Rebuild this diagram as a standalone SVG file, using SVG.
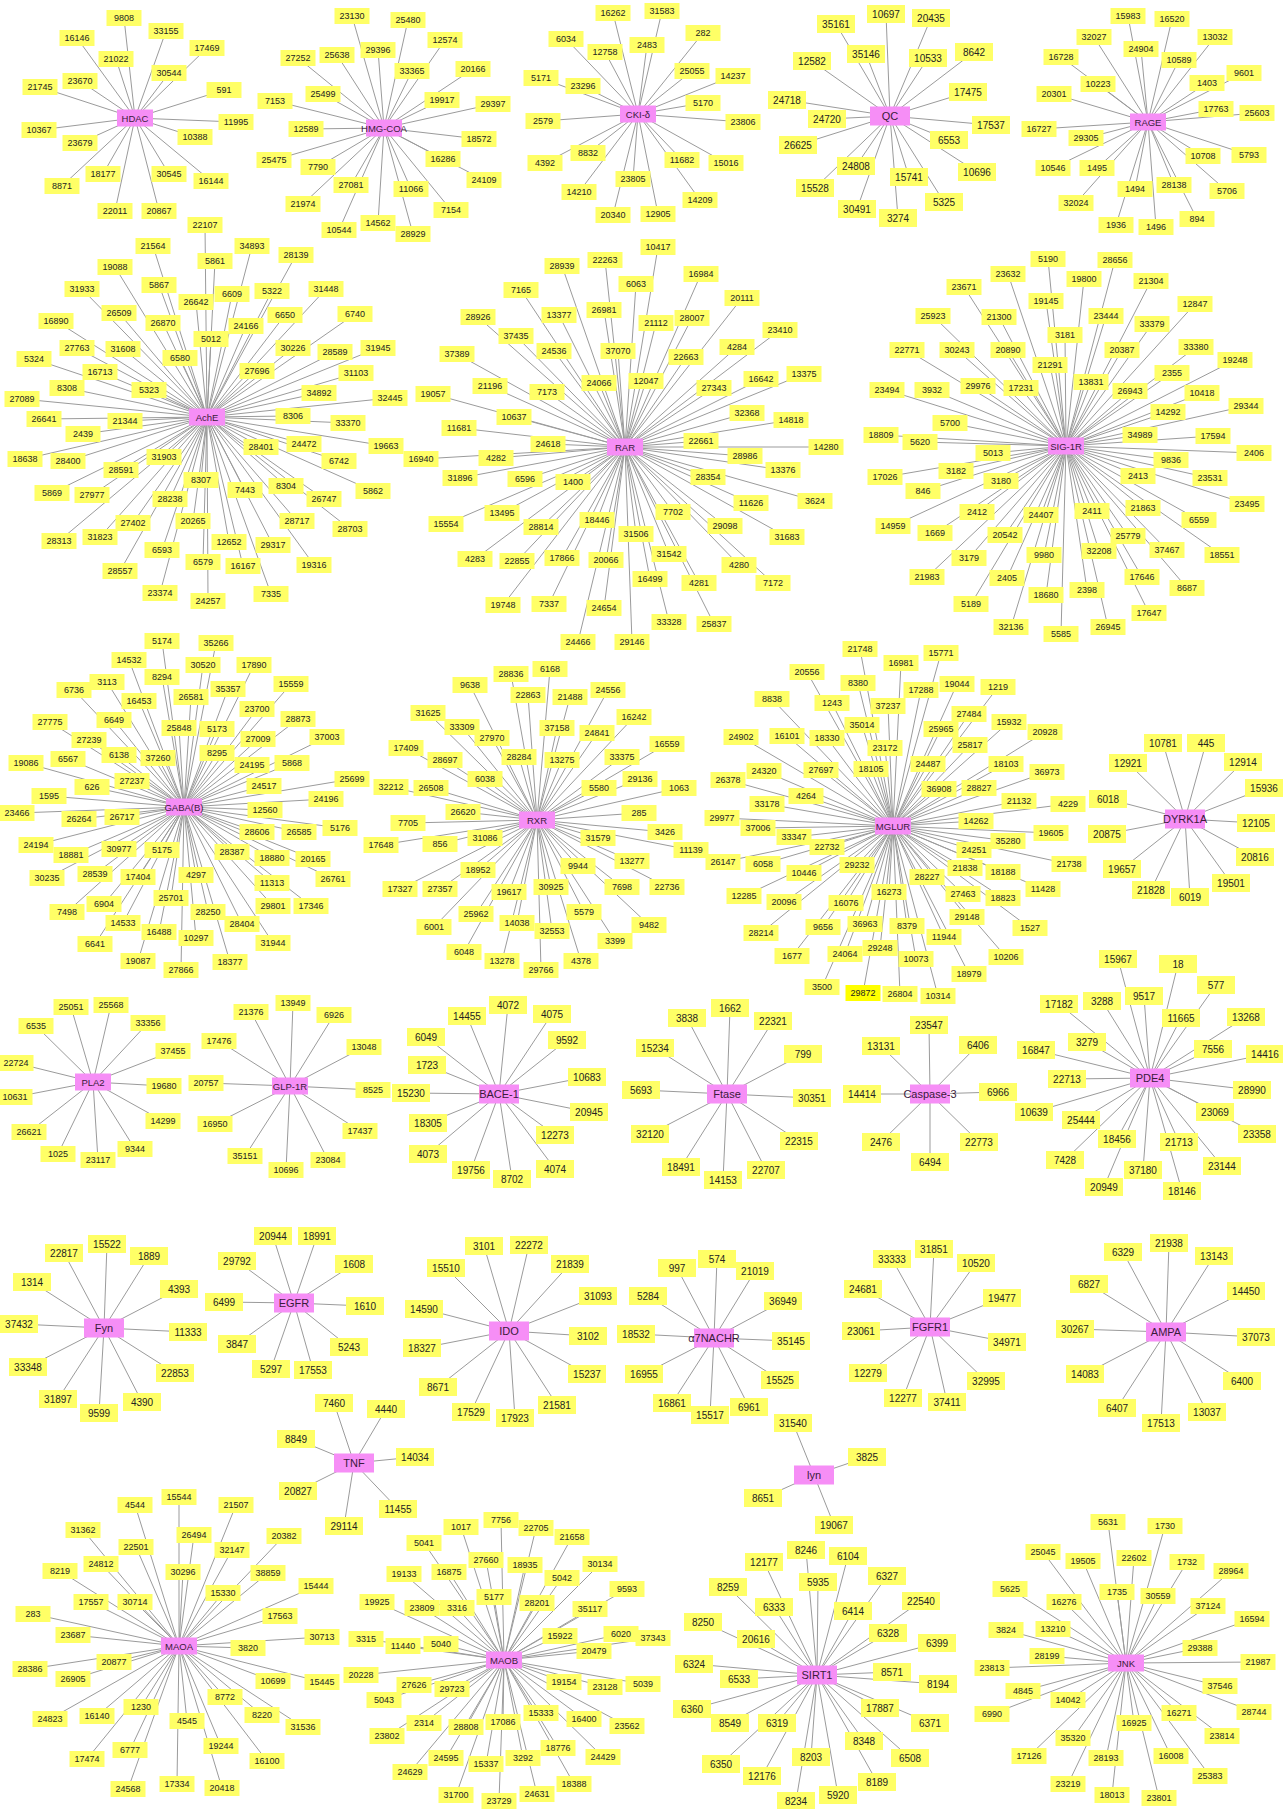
<svg xmlns="http://www.w3.org/2000/svg" width="1283" height="1809" viewBox="0 0 1283 1809">
<style>
text{font-family:"Liberation Sans",Arial,sans-serif;font-size:9px;fill:#222;text-anchor:middle;dominant-baseline:central}
rect{x:-17.5px;y:-8px;width:35px;height:16px;fill:#ffff66}
.L rect{x:-19px;y:-9px;width:38px;height:18px}
.L text{font-size:10px}
.h rect{fill:#f68ef6;x:-18px;y:-8.5px;width:36px;height:17px}
.L .h rect{x:-20px;y:-9.5px;width:40px;height:19px}
.h text{font-size:9.5px;fill:#3a1a3a}
.L .h text{font-size:11px}
#bg{x:0;y:0;width:1283px;height:1809px;fill:#fff}
#edges path{stroke:#9b9b9b;stroke-width:1;fill:none}
</style>
<rect id="bg"/>
<g id="edges">
<path id="e-HDAC" d="M135 118L124 18M135 118L77 38M135 118L166 31M135 118L116 59M135 118L207 48M135 118L169 73M135 118L40 87M135 118L80 81M135 118L224 90M135 118L236 122M135 118L39 130M135 118L195 137M135 118L80 143M135 118L103 174M135 118L169 174M135 118L211 181M135 118L62 186M135 118L115 211M135 118L159 211"/>
<path id="e-HMG" d="M384 128L352 16M384 128L408 20M384 128L298 58M384 128L337 55M384 128L378 50M384 128L412 71M384 128L323 94M384 128L275 101M384 128L306 129M384 128L274 160M384 128L318 167M384 128L351 185M384 128L303 204M384 128L411 189M384 128L339 230M384 128L378 223M384 128L413 234M384 128L445 40M384 128L473 69M384 128L442 100M384 128L493 104M384 128L479 139M384 128L443 159M384 128L484 180M384 128L451 210"/>
<path id="e-CKI" d="M638 114L613 13M638 114L662 11M638 114L566 39M638 114L605 52M638 114L647 45M638 114L703 33M638 114L692 71M638 114L733 76M638 114L541 78M638 114L583 86M638 114L703 103M638 114L543 121M638 114L743 122M638 114L588 153M638 114L545 163M638 114L682 160M638 114L726 163M638 114L633 179M638 114L579 192M638 114L700 200M638 114L613 215M638 114L658 214"/>
<path id="e-QC" d="M890 116L886 14M890 116L931 18M890 116L866 54M890 116L928 58M890 116L974 52M890 116L968 92M890 116L991 125M890 116L949 140M890 116L977 172M890 116L909 177M890 116L944 202M890 116L898 218M890 116L857 209M890 116L856 166M890 116L836 24M890 116L812 61M890 116L787 100M890 116L827 119M890 116L798 145M890 116L815 188"/>
<path id="e-RAGE" d="M1148 122L1128 16M1148 122L1172 19M1148 122L1094 37M1148 122L1141 49M1148 122L1215 37M1148 122L1061 57M1148 122L1179 60M1148 122L1244 73M1148 122L1098 84M1148 122L1207 83M1148 122L1054 94M1148 122L1216 109M1148 122L1257 113M1148 122L1039 129M1148 122L1086 138M1148 122L1203 156M1148 122L1249 155M1148 122L1053 168M1148 122L1097 168M1148 122L1135 189M1148 122L1174 185M1148 122L1227 191M1148 122L1076 203M1148 122L1116 225M1148 122L1156 227M1148 122L1197 219"/>
<path id="e-AchE" d="M207 417L205 225M207 417L153 246M207 417L252 246M207 417L215 261M207 417L296 255M207 417L115 267M207 417L159 285M207 417L82 289M207 417L232 294M207 417L272 291M207 417L326 289M207 417L196 302M207 417L119 313M207 417L285 315M207 417L355 314M207 417L56 321M207 417L163 323M207 417L246 326M207 417L211 339M207 417L77 348M207 417L123 349M207 417L293 348M207 417L335 352M207 417L378 348M207 417L34 359M207 417L180 358M207 417L257 371M207 417L100 372M207 417L356 373M207 417L67 388M207 417L149 390M207 417L319 393M207 417L22 399M207 417L390 398M207 417L44 419M207 417L125 421M207 417L293 416M207 417L348 423M207 417L83 434M207 417L261 447M207 417L304 444M207 417L386 446M207 417L25 459M207 417L68 461M207 417L164 457M207 417L339 461M207 417L121 470M207 417L201 480M207 417L52 493M207 417L92 495M207 417L245 490M207 417L286 486M207 417L324 499M207 417L373 491M207 417L170 499M207 417L133 523M207 417L193 521M207 417L297 521M207 417L350 529M207 417L59 541M207 417L100 537M207 417L229 542M207 417L273 545M207 417L162 550M207 417L203 562M207 417L243 566M207 417L314 565M207 417L120 571M207 417L160 593M207 417L208 601M207 417L271 594"/>
<path id="e-RAR" d="M625 447L658 247M625 447L605 260M625 447L562 266M625 447L701 274M625 447L636 284M625 447L521 290M625 447L742 298M625 447L604 310M625 447L559 315M625 447L478 317M625 447L656 323M625 447L692 318M625 447L516 336M625 447L780 330M625 447L554 351M625 447L618 351M625 447L457 354M625 447L737 347M625 447L686 357M625 447L714 388M625 447L761 379M625 447L804 374M625 447L599 383M625 447L646 381M625 447L490 386M625 447L547 392M625 447L433 394M625 447L747 413M625 447L791 420M625 447L514 417M625 447L459 428M625 447L548 444M625 447L701 441M625 447L826 447M625 447L745 456M625 447L496 458M625 447L421 459M625 447L460 478M625 447L525 479M625 447L573 482M625 447L783 470M625 447L708 477M625 447L815 501M625 447L751 503M625 447L502 513M625 447L673 512M625 447L446 524M625 447L541 527M625 447L597 520M625 447L636 534M625 447L725 526M625 447L787 537M625 447L475 559M625 447L517 561M625 447L562 558M625 447L606 560M625 447L669 554M625 447L739 565M625 447L773 583M625 447L650 579M625 447L699 583M625 447L503 605M625 447L549 604M625 447L604 608M625 447L669 622M625 447L714 624M625 447L578 642M625 447L632 642"/>
<path id="e-SIG" d="M1066 446L1048 259M1066 446L1115 260M1066 446L1008 274M1066 446L1084 279M1066 446L1151 281M1066 446L964 287M1066 446L1046 301M1066 446L1195 304M1066 446L933 316M1066 446L999 317M1066 446L1106 316M1066 446L1152 324M1066 446L1065 335M1066 446L907 350M1066 446L957 350M1066 446L1008 350M1066 446L1122 350M1066 446L1196 347M1066 446L1235 360M1066 446L1050 365M1066 446L1172 373M1066 446L887 390M1066 446L932 390M1066 446L978 386M1066 446L1021 388M1066 446L1091 382M1066 446L1130 391M1066 446L1202 393M1066 446L1246 406M1066 446L1168 412M1066 446L950 423M1066 446L881 435M1066 446L920 442M1066 446L1140 435M1066 446L1213 436M1066 446L993 453M1066 446L1254 453M1066 446L1171 460M1066 446L956 471M1066 446L885 477M1066 446L1138 476M1066 446L1210 478M1066 446L1001 481M1066 446L923 491M1066 446L1247 504M1066 446L977 512M1066 446L1041 515M1066 446L1092 511M1066 446L1143 508M1066 446L1199 520M1066 446L893 526M1066 446L935 533M1066 446L1005 535M1066 446L1128 536M1066 446L1167 550M1066 446L1222 555M1066 446L1044 555M1066 446L1099 551M1066 446L969 558M1066 446L927 577M1066 446L1007 578M1066 446L1142 577M1066 446L1187 588M1066 446L1046 595M1066 446L1087 590M1066 446L971 604M1066 446L1149 613M1066 446L1011 627M1066 446L1061 634M1066 446L1108 627"/>
<path id="e-GABA" d="M184 807L162 641M184 807L216 643M184 807L129 660M184 807L203 665M184 807L254 665M184 807L162 677M184 807L107 682M184 807L74 690M184 807L228 689M184 807L291 684M184 807L139 701M184 807L191 697M184 807L257 709M184 807L50 722M184 807L114 720M184 807L179 728M184 807L217 729M184 807L298 719M184 807L89 740M184 807L258 739M184 807L327 737M184 807L119 755M184 807L158 758M184 807L217 753M184 807L26 763M184 807L68 759M184 807L252 765M184 807L292 763M184 807L132 781M184 807L92 787M184 807L264 786M184 807L352 779M184 807L49 796M184 807L326 799M184 807L17 813M184 807L79 819M184 807L122 817M184 807L265 810M184 807L340 828M184 807L257 832M184 807L299 832M184 807L36 845M184 807L71 855M184 807L119 849M184 807L162 850M184 807L232 852M184 807L272 858M184 807L313 859M184 807L47 878M184 807L95 874M184 807L138 877M184 807L196 875M184 807L272 883M184 807L333 879M184 807L67 912M184 807L104 904M184 807L171 898M184 807L208 912M184 807L273 906M184 807L311 906M184 807L123 923M184 807L242 924M184 807L159 932M184 807L196 938M184 807L95 944M184 807L273 943M184 807L138 961M184 807L181 970M184 807L230 962"/>
<path id="e-RXR" d="M537 820L550 669M537 820L511 674M537 820L470 685M537 820L528 695M537 820L570 697M537 820L608 690M537 820L428 713M537 820L462 727M537 820L634 717M537 820L557 728M537 820L597 733M537 820L492 738M537 820L667 744M537 820L445 760M537 820L519 757M537 820L562 760M537 820L622 757M537 820L406 748M537 820L485 779M537 820L640 779M537 820L679 788M537 820L599 788M537 820L431 788M537 820L391 787M537 820L463 812M537 820L639 813M537 820L665 832M537 820L598 838M537 820L691 850M537 820L485 838M537 820L408 823M537 820L440 844M537 820L381 845M537 820L632 861M537 820L478 870M537 820L578 866M537 820L667 887M537 820L622 887M537 820L440 889M537 820L400 889M537 820L509 892M537 820L551 887M537 820L476 914M537 820L584 912M537 820L649 925M537 820L517 923M537 820L552 931M537 820L434 927M537 820L615 941M537 820L464 952M537 820L502 961M537 820L541 970M537 820L581 961"/>
<path id="e-MGLUR" d="M893 826L860 649M893 826L807 672M893 826L858 683M893 826L772 699M893 826L832 703M893 826L862 725M893 826L741 737M893 826L787 736M893 826L827 738M893 826L821 770M893 826L764 771M893 826L728 780M893 826L806 796M893 826L767 804M893 826L722 818M893 826L758 828M893 826L794 837M893 826L827 847M893 826L723 862M893 826L763 864M893 826L857 865M893 826L804 873M893 826L744 896M893 826L784 902M893 826L846 903M893 826L761 933M893 826L823 927M893 826L792 956M893 826L845 954M893 826L822 987M893 826L863 993M893 826L900 994M893 826L938 996M893 826L916 959M893 826L969 974M893 826L1006 957M893 826L901 663M893 826L941 653M893 826L921 690M893 826L957 684M893 826L998 687M893 826L888 706M893 826L969 714M893 826L941 729M893 826L1009 722M893 826L1045 732M893 826L885 748M893 826L970 745M893 826L871 769M893 826L928 764M893 826L1006 764M893 826L1047 772M893 826L939 789M893 826L979 788M893 826L1019 801M893 826L1068 804M893 826L976 821M893 826L1051 833M893 826L1008 841M893 826L974 850M893 826L1069 864M893 826L965 868M893 826L1003 872M893 826L927 877M893 826L1043 889M893 826L889 892M893 826L963 894M893 826L1003 898M893 826L865 924M893 826L907 926M893 826L967 917M893 826L1030 928M893 826L944 937M893 826L880 948"/>
<path id="e-DYRK1A" d="M1185 819L1163 743M1185 819L1206 743M1185 819L1128 763M1185 819L1243 762M1185 819L1265 788M1185 819L1108 799M1185 819L1256 823M1185 819L1107 834M1185 819L1255 857M1185 819L1122 869M1185 819L1231 883M1185 819L1151 890M1185 819L1190 897"/>
<path id="e-PLA2" d="M93 1082L71 1007M93 1082L111 1005M93 1082L36 1026M93 1082L148 1023M93 1082L173 1051M93 1082L16 1063M93 1082L164 1086M93 1082L15 1097M93 1082L163 1121M93 1082L29 1132M93 1082L135 1149M93 1082L58 1154M93 1082L98 1160"/>
<path id="e-GLP" d="M290 1086L251 1012M290 1086L293 1003M290 1086L334 1015M290 1086L219 1041M290 1086L364 1047M290 1086L206 1083M290 1086L373 1090M290 1086L215 1124M290 1086L360 1131M290 1086L245 1156M290 1086L328 1160M290 1086L286 1170"/>
<path id="e-BACE" d="M499 1094L508 1005M499 1094L467 1016M499 1094L552 1014M499 1094L426 1037M499 1094L427 1065M499 1094L567 1040M499 1094L587 1077M499 1094L411 1093M499 1094L589 1112M499 1094L428 1123M499 1094L555 1135M499 1094L428 1154M499 1094L471 1170M499 1094L555 1169M499 1094L512 1179"/>
<path id="e-Ftase" d="M727 1094L730 1008M727 1094L687 1018M727 1094L773 1021M727 1094L655 1048M727 1094L803 1054M727 1094L641 1090M727 1094L812 1098M727 1094L650 1134M727 1094L799 1141M727 1094L681 1167M727 1094L766 1170M727 1094L723 1180"/>
<path id="e-Casp" d="M930 1094L929 1025M930 1094L881 1046M930 1094L978 1045M930 1094L862 1094M930 1094L998 1092M930 1094L881 1142M930 1094L979 1142M930 1094L930 1162"/>
<path id="e-PDE4" d="M1150 1078L1118 959M1150 1078L1178 964M1150 1078L1216 985M1150 1078L1059 1004M1150 1078L1102 1001M1150 1078L1144 996M1150 1078L1181 1018M1150 1078L1246 1017M1150 1078L1087 1042M1150 1078L1213 1049M1150 1078L1036 1050M1150 1078L1267 1054M1150 1078L1067 1079M1150 1078L1252 1090M1150 1078L1034 1112M1150 1078L1215 1112M1150 1078L1081 1120M1150 1078L1257 1134M1150 1078L1117 1139M1150 1078L1179 1142M1150 1078L1065 1160M1150 1078L1222 1166M1150 1078L1143 1170M1150 1078L1104 1187M1150 1078L1182 1191"/>
<path id="e-Fyn" d="M104 1328L107 1244M104 1328L64 1253M104 1328L149 1256M104 1328L32 1282M104 1328L179 1289M104 1328L19 1324M104 1328L188 1332M104 1328L28 1367M104 1328L175 1373M104 1328L58 1399M104 1328L142 1402M104 1328L99 1413"/>
<path id="e-EGFR" d="M294 1303L273 1236M294 1303L317 1236M294 1303L237 1261M294 1303L354 1264M294 1303L224 1302M294 1303L365 1306M294 1303L237 1344M294 1303L349 1347M294 1303L271 1369M294 1303L313 1370"/>
<path id="e-IDO" d="M509 1331L484 1246M509 1331L529 1245M509 1331L446 1268M509 1331L570 1264M509 1331L424 1309M509 1331L598 1296M509 1331L588 1336M509 1331L422 1348M509 1331L587 1374M509 1331L438 1387M509 1331L557 1405M509 1331L471 1412M509 1331L515 1418"/>
<path id="e-a7" d="M714 1338L677 1268M714 1338L717 1259M714 1338L755 1271M714 1338L648 1296M714 1338L783 1301M714 1338L636 1334M714 1338L791 1341M714 1338L644 1374M714 1338L780 1380M714 1338L672 1403M714 1338L749 1407M714 1338L710 1415"/>
<path id="e-FGFR1" d="M930 1327L934 1249M930 1327L892 1259M930 1327L976 1263M930 1327L863 1289M930 1327L1002 1298M930 1327L861 1331M930 1327L1007 1342M930 1327L868 1373M930 1327L986 1381M930 1327L903 1398M930 1327L947 1402"/>
<path id="e-AMPA" d="M1166 1332L1169 1243M1166 1332L1123 1252M1166 1332L1214 1256M1166 1332L1089 1284M1166 1332L1246 1291M1166 1332L1075 1329M1166 1332L1256 1337M1166 1332L1085 1374M1166 1332L1242 1381M1166 1332L1117 1408M1166 1332L1207 1412M1166 1332L1161 1423"/>
<path id="e-TNF" d="M354 1463L334 1403M354 1463L386 1409M354 1463L296 1439M354 1463L415 1457M354 1463L298 1491M354 1463L398 1509M354 1463L344 1526"/>
<path id="e-lyn" d="M814 1475L793 1423M814 1475L867 1457M814 1475L763 1498M814 1475L834 1525"/>
<path id="e-MAOA" d="M179 1646L179 1497M179 1646L135 1505M179 1646L236 1505M179 1646L83 1530M179 1646L194 1535M179 1646L284 1536M179 1646L136 1547M179 1646L232 1550M179 1646L101 1564M179 1646L60 1571M179 1646L183 1572M179 1646L268 1573M179 1646L316 1586M179 1646L223 1593M179 1646L91 1602M179 1646L135 1602M179 1646L33 1614M179 1646L280 1616M179 1646L73 1635M179 1646L322 1637M179 1646L248 1648M179 1646L30 1669M179 1646L114 1662M179 1646L73 1679M179 1646L273 1681M179 1646L322 1682M179 1646L225 1697M179 1646L141 1707M179 1646L50 1719M179 1646L97 1716M179 1646L262 1715M179 1646L187 1721M179 1646L303 1727M179 1646L221 1746M179 1646L130 1750M179 1646L87 1759M179 1646L267 1761M179 1646L177 1784M179 1646L128 1789M179 1646L222 1788"/>
<path id="e-MAOB" d="M504 1660L424 1543M504 1660L404 1574M504 1660L377 1602M504 1660L422 1608M504 1660L366 1639M504 1660L403 1646M504 1660L361 1675M504 1660L414 1685M504 1660L384 1700M504 1660L424 1723M504 1660L387 1736M504 1660L410 1772M504 1660L501 1520M504 1660L461 1527M504 1660L536 1528M504 1660L572 1537M504 1660L486 1560M504 1660L525 1565M504 1660L600 1564M504 1660L449 1572M504 1660L562 1578M504 1660L627 1589M504 1660L494 1597M504 1660L537 1603M504 1660L457 1608M504 1660L590 1609M504 1660L560 1636M504 1660L621 1634M504 1660L653 1638M504 1660L594 1651M504 1660L441 1644M504 1660L564 1682M504 1660L605 1687M504 1660L643 1684M504 1660L452 1689M504 1660L541 1713M504 1660L584 1719M504 1660L627 1726M504 1660L466 1727M504 1660L503 1722M504 1660L558 1748M504 1660L603 1757M504 1660L446 1758M504 1660L486 1764M504 1660L523 1758M504 1660L574 1784M504 1660L456 1795M504 1660L499 1801M504 1660L537 1794"/>
<path id="e-SIRT1" d="M817 1675L806 1550M817 1675L764 1562M817 1675L848 1556M817 1675L818 1582M817 1675L728 1587M817 1675L774 1607M817 1675L853 1611M817 1675L703 1622M817 1675L756 1639M817 1675L694 1664M817 1675L739 1679M817 1675L692 1709M817 1675L730 1723M817 1675L777 1723M817 1675L721 1764M817 1675L811 1757M817 1675L762 1776M817 1675L838 1795M817 1675L796 1801M817 1675L887 1576M817 1675L921 1601M817 1675L888 1633M817 1675L937 1643M817 1675L892 1672M817 1675L938 1684M817 1675L880 1708M817 1675L930 1723M817 1675L864 1741M817 1675L910 1758M817 1675L877 1782"/>
<path id="e-JNK" d="M1126 1663L1108 1522M1126 1663L1165 1526M1126 1663L1043 1552M1126 1663L1083 1561M1126 1663L1134 1558M1126 1663L1187 1562M1126 1663L1231 1571M1126 1663L1010 1589M1126 1663L1117 1592M1126 1663L1158 1596M1126 1663L1064 1602M1126 1663L1208 1606M1126 1663L1252 1619M1126 1663L1006 1630M1126 1663L1053 1629M1126 1663L1200 1648M1126 1663L1047 1656M1126 1663L1258 1662M1126 1663L992 1668M1126 1663L1220 1686M1126 1663L1023 1691M1126 1663L1068 1700M1126 1663L992 1714M1126 1663L1179 1713M1126 1663L1254 1712M1126 1663L1134 1723M1126 1663L1222 1736M1126 1663L1073 1738M1126 1663L1029 1756M1126 1663L1171 1756M1126 1663L1106 1758M1126 1663L1210 1776M1126 1663L1068 1784M1126 1663L1112 1795M1126 1663L1159 1798"/>
</g>
<g id="nodes">
<g id="net-HDAC">
<g id="HDAC" class="h" transform="translate(135 118)"><rect/><text>HDAC</text></g>
<g id="HD9808" transform="translate(124 18)"><rect/><text>9808</text></g>
<g id="HD16146" transform="translate(77 38)"><rect/><text>16146</text></g>
<g id="HD33155" transform="translate(166 31)"><rect/><text>33155</text></g>
<g id="HD21022" transform="translate(116 59)"><rect/><text>21022</text></g>
<g id="HD17469" transform="translate(207 48)"><rect/><text>17469</text></g>
<g id="HD30544" transform="translate(169 73)"><rect/><text>30544</text></g>
<g id="HD21745" transform="translate(40 87)"><rect/><text>21745</text></g>
<g id="HD23670" transform="translate(80 81)"><rect/><text>23670</text></g>
<g id="HD591" transform="translate(224 90)"><rect/><text>591</text></g>
<g id="HD11995" transform="translate(236 122)"><rect/><text>11995</text></g>
<g id="HD10367" transform="translate(39 130)"><rect/><text>10367</text></g>
<g id="HD10388" transform="translate(195 137)"><rect/><text>10388</text></g>
<g id="HD23679" transform="translate(80 143)"><rect/><text>23679</text></g>
<g id="HD18177" transform="translate(103 174)"><rect/><text>18177</text></g>
<g id="HD30545" transform="translate(169 174)"><rect/><text>30545</text></g>
<g id="HD16144" transform="translate(211 181)"><rect/><text>16144</text></g>
<g id="HD8871" transform="translate(62 186)"><rect/><text>8871</text></g>
<g id="HD22011" transform="translate(115 211)"><rect/><text>22011</text></g>
<g id="HD20867" transform="translate(159 211)"><rect/><text>20867</text></g>
</g>
<g id="net-HMG">
<g id="HMG-COA" class="h" transform="translate(384 128)"><rect/><text>HMG-COA</text></g>
<g id="HM23130" transform="translate(352 16)"><rect/><text>23130</text></g>
<g id="HM25480" transform="translate(408 20)"><rect/><text>25480</text></g>
<g id="HM27252" transform="translate(298 58)"><rect/><text>27252</text></g>
<g id="HM25638" transform="translate(337 55)"><rect/><text>25638</text></g>
<g id="HM29396" transform="translate(378 50)"><rect/><text>29396</text></g>
<g id="HM33365" transform="translate(412 71)"><rect/><text>33365</text></g>
<g id="HM25499" transform="translate(323 94)"><rect/><text>25499</text></g>
<g id="HM7153" transform="translate(275 101)"><rect/><text>7153</text></g>
<g id="HM12589" transform="translate(306 129)"><rect/><text>12589</text></g>
<g id="HM25475" transform="translate(274 160)"><rect/><text>25475</text></g>
<g id="HM7790" transform="translate(318 167)"><rect/><text>7790</text></g>
<g id="HM27081" transform="translate(351 185)"><rect/><text>27081</text></g>
<g id="HM21974" transform="translate(303 204)"><rect/><text>21974</text></g>
<g id="HM11066" transform="translate(411 189)"><rect/><text>11066</text></g>
<g id="HM10544" transform="translate(339 230)"><rect/><text>10544</text></g>
<g id="HM14562" transform="translate(378 223)"><rect/><text>14562</text></g>
<g id="HM28929" transform="translate(413 234)"><rect/><text>28929</text></g>
<g id="HM12574" transform="translate(445 40)"><rect/><text>12574</text></g>
<g id="HM20166" transform="translate(473 69)"><rect/><text>20166</text></g>
<g id="HM19917" transform="translate(442 100)"><rect/><text>19917</text></g>
<g id="HM29397" transform="translate(493 104)"><rect/><text>29397</text></g>
<g id="HM18572" transform="translate(479 139)"><rect/><text>18572</text></g>
<g id="HM16286" transform="translate(443 159)"><rect/><text>16286</text></g>
<g id="HM24109" transform="translate(484 180)"><rect/><text>24109</text></g>
<g id="HM7154" transform="translate(451 210)"><rect/><text>7154</text></g>
</g>
<g id="net-CKI">
<g id="CKI-d" class="h" transform="translate(638 114)"><rect/><text>CKI-δ</text></g>
<g id="CK16262" transform="translate(613 13)"><rect/><text>16262</text></g>
<g id="CK31583" transform="translate(662 11)"><rect/><text>31583</text></g>
<g id="CK6034" transform="translate(566 39)"><rect/><text>6034</text></g>
<g id="CK12758" transform="translate(605 52)"><rect/><text>12758</text></g>
<g id="CK2483" transform="translate(647 45)"><rect/><text>2483</text></g>
<g id="CK282" transform="translate(703 33)"><rect/><text>282</text></g>
<g id="CK25055" transform="translate(692 71)"><rect/><text>25055</text></g>
<g id="CK14237" transform="translate(733 76)"><rect/><text>14237</text></g>
<g id="CK5171" transform="translate(541 78)"><rect/><text>5171</text></g>
<g id="CK23296" transform="translate(583 86)"><rect/><text>23296</text></g>
<g id="CK5170" transform="translate(703 103)"><rect/><text>5170</text></g>
<g id="CK2579" transform="translate(543 121)"><rect/><text>2579</text></g>
<g id="CK23806" transform="translate(743 122)"><rect/><text>23806</text></g>
<g id="CK8832" transform="translate(588 153)"><rect/><text>8832</text></g>
<g id="CK4392" transform="translate(545 163)"><rect/><text>4392</text></g>
<g id="CK11682" transform="translate(682 160)"><rect/><text>11682</text></g>
<g id="CK15016" transform="translate(726 163)"><rect/><text>15016</text></g>
<g id="CK23805" transform="translate(633 179)"><rect/><text>23805</text></g>
<g id="CK14210" transform="translate(579 192)"><rect/><text>14210</text></g>
<g id="CK14209" transform="translate(700 200)"><rect/><text>14209</text></g>
<g id="CK20340" transform="translate(613 215)"><rect/><text>20340</text></g>
<g id="CK12905" transform="translate(658 214)"><rect/><text>12905</text></g>
</g>
<g id="net-QC" class="L">
<g id="QC" class="h" transform="translate(890 116)"><rect/><text>QC</text></g>
<g id="QC10697" transform="translate(886 14)"><rect/><text>10697</text></g>
<g id="QC20435" transform="translate(931 18)"><rect/><text>20435</text></g>
<g id="QC35146" transform="translate(866 54)"><rect/><text>35146</text></g>
<g id="QC10533" transform="translate(928 58)"><rect/><text>10533</text></g>
<g id="QC8642" transform="translate(974 52)"><rect/><text>8642</text></g>
<g id="QC17475" transform="translate(968 92)"><rect/><text>17475</text></g>
<g id="QC17537" transform="translate(991 125)"><rect/><text>17537</text></g>
<g id="QC6553" transform="translate(949 140)"><rect/><text>6553</text></g>
<g id="QC10696" transform="translate(977 172)"><rect/><text>10696</text></g>
<g id="QC15741" transform="translate(909 177)"><rect/><text>15741</text></g>
<g id="QC5325" transform="translate(944 202)"><rect/><text>5325</text></g>
<g id="QC3274" transform="translate(898 218)"><rect/><text>3274</text></g>
<g id="QC30491" transform="translate(857 209)"><rect/><text>30491</text></g>
<g id="QC24808" transform="translate(856 166)"><rect/><text>24808</text></g>
<g id="QC35161" transform="translate(836 24)"><rect/><text>35161</text></g>
<g id="QC12582" transform="translate(812 61)"><rect/><text>12582</text></g>
<g id="QC24718" transform="translate(787 100)"><rect/><text>24718</text></g>
<g id="QC24720" transform="translate(827 119)"><rect/><text>24720</text></g>
<g id="QC26625" transform="translate(798 145)"><rect/><text>26625</text></g>
<g id="QC15528" transform="translate(815 188)"><rect/><text>15528</text></g>
</g>
<g id="net-RAGE">
<g id="RAGE" class="h" transform="translate(1148 122)"><rect/><text>RAGE</text></g>
<g id="RG15983" transform="translate(1128 16)"><rect/><text>15983</text></g>
<g id="RG16520" transform="translate(1172 19)"><rect/><text>16520</text></g>
<g id="RG32027" transform="translate(1094 37)"><rect/><text>32027</text></g>
<g id="RG24904" transform="translate(1141 49)"><rect/><text>24904</text></g>
<g id="RG13032" transform="translate(1215 37)"><rect/><text>13032</text></g>
<g id="RG16728" transform="translate(1061 57)"><rect/><text>16728</text></g>
<g id="RG10589" transform="translate(1179 60)"><rect/><text>10589</text></g>
<g id="RG9601" transform="translate(1244 73)"><rect/><text>9601</text></g>
<g id="RG10223" transform="translate(1098 84)"><rect/><text>10223</text></g>
<g id="RG1403" transform="translate(1207 83)"><rect/><text>1403</text></g>
<g id="RG20301" transform="translate(1054 94)"><rect/><text>20301</text></g>
<g id="RG17763" transform="translate(1216 109)"><rect/><text>17763</text></g>
<g id="RG25603" transform="translate(1257 113)"><rect/><text>25603</text></g>
<g id="RG16727" transform="translate(1039 129)"><rect/><text>16727</text></g>
<g id="RG29305" transform="translate(1086 138)"><rect/><text>29305</text></g>
<g id="RG10708" transform="translate(1203 156)"><rect/><text>10708</text></g>
<g id="RG5793" transform="translate(1249 155)"><rect/><text>5793</text></g>
<g id="RG10546" transform="translate(1053 168)"><rect/><text>10546</text></g>
<g id="RG1495" transform="translate(1097 168)"><rect/><text>1495</text></g>
<g id="RG1494" transform="translate(1135 189)"><rect/><text>1494</text></g>
<g id="RG28138" transform="translate(1174 185)"><rect/><text>28138</text></g>
<g id="RG5706" transform="translate(1227 191)"><rect/><text>5706</text></g>
<g id="RG32024" transform="translate(1076 203)"><rect/><text>32024</text></g>
<g id="RG1936" transform="translate(1116 225)"><rect/><text>1936</text></g>
<g id="RG1496" transform="translate(1156 227)"><rect/><text>1496</text></g>
<g id="RG894" transform="translate(1197 219)"><rect/><text>894</text></g>
</g>
<g id="net-AchE">
<g id="AchE" class="h" transform="translate(207 417)"><rect/><text>AchE</text></g>
<g id="AE22107" transform="translate(205 225)"><rect/><text>22107</text></g>
<g id="AE21564" transform="translate(153 246)"><rect/><text>21564</text></g>
<g id="AE34893" transform="translate(252 246)"><rect/><text>34893</text></g>
<g id="AE5861" transform="translate(215 261)"><rect/><text>5861</text></g>
<g id="AE28139" transform="translate(296 255)"><rect/><text>28139</text></g>
<g id="AE19088" transform="translate(115 267)"><rect/><text>19088</text></g>
<g id="AE5867" transform="translate(159 285)"><rect/><text>5867</text></g>
<g id="AE31933" transform="translate(82 289)"><rect/><text>31933</text></g>
<g id="AE6609" transform="translate(232 294)"><rect/><text>6609</text></g>
<g id="AE5322" transform="translate(272 291)"><rect/><text>5322</text></g>
<g id="AE31448" transform="translate(326 289)"><rect/><text>31448</text></g>
<g id="AE26642" transform="translate(196 302)"><rect/><text>26642</text></g>
<g id="AE26509" transform="translate(119 313)"><rect/><text>26509</text></g>
<g id="AE6650" transform="translate(285 315)"><rect/><text>6650</text></g>
<g id="AE6740" transform="translate(355 314)"><rect/><text>6740</text></g>
<g id="AE16890" transform="translate(56 321)"><rect/><text>16890</text></g>
<g id="AE26870" transform="translate(163 323)"><rect/><text>26870</text></g>
<g id="AE24166" transform="translate(246 326)"><rect/><text>24166</text></g>
<g id="AE5012" transform="translate(211 339)"><rect/><text>5012</text></g>
<g id="AE27763" transform="translate(77 348)"><rect/><text>27763</text></g>
<g id="AE31608" transform="translate(123 349)"><rect/><text>31608</text></g>
<g id="AE30226" transform="translate(293 348)"><rect/><text>30226</text></g>
<g id="AE28589" transform="translate(335 352)"><rect/><text>28589</text></g>
<g id="AE31945" transform="translate(378 348)"><rect/><text>31945</text></g>
<g id="AE5324" transform="translate(34 359)"><rect/><text>5324</text></g>
<g id="AE6580" transform="translate(180 358)"><rect/><text>6580</text></g>
<g id="AE27696" transform="translate(257 371)"><rect/><text>27696</text></g>
<g id="AE16713" transform="translate(100 372)"><rect/><text>16713</text></g>
<g id="AE31103" transform="translate(356 373)"><rect/><text>31103</text></g>
<g id="AE8308" transform="translate(67 388)"><rect/><text>8308</text></g>
<g id="AE5323" transform="translate(149 390)"><rect/><text>5323</text></g>
<g id="AE34892" transform="translate(319 393)"><rect/><text>34892</text></g>
<g id="AE27089" transform="translate(22 399)"><rect/><text>27089</text></g>
<g id="AE32445" transform="translate(390 398)"><rect/><text>32445</text></g>
<g id="AE26641" transform="translate(44 419)"><rect/><text>26641</text></g>
<g id="AE21344" transform="translate(125 421)"><rect/><text>21344</text></g>
<g id="AE8306" transform="translate(293 416)"><rect/><text>8306</text></g>
<g id="AE33370" transform="translate(348 423)"><rect/><text>33370</text></g>
<g id="AE2439" transform="translate(83 434)"><rect/><text>2439</text></g>
<g id="AE28401" transform="translate(261 447)"><rect/><text>28401</text></g>
<g id="AE24472" transform="translate(304 444)"><rect/><text>24472</text></g>
<g id="AE19663" transform="translate(386 446)"><rect/><text>19663</text></g>
<g id="AE18638" transform="translate(25 459)"><rect/><text>18638</text></g>
<g id="AE28400" transform="translate(68 461)"><rect/><text>28400</text></g>
<g id="AE31903" transform="translate(164 457)"><rect/><text>31903</text></g>
<g id="AE6742" transform="translate(339 461)"><rect/><text>6742</text></g>
<g id="AE28591" transform="translate(121 470)"><rect/><text>28591</text></g>
<g id="AE8307" transform="translate(201 480)"><rect/><text>8307</text></g>
<g id="AE5869" transform="translate(52 493)"><rect/><text>5869</text></g>
<g id="AE27977" transform="translate(92 495)"><rect/><text>27977</text></g>
<g id="AE7443" transform="translate(245 490)"><rect/><text>7443</text></g>
<g id="AE8304" transform="translate(286 486)"><rect/><text>8304</text></g>
<g id="AE26747" transform="translate(324 499)"><rect/><text>26747</text></g>
<g id="AE5862" transform="translate(373 491)"><rect/><text>5862</text></g>
<g id="AE28238" transform="translate(170 499)"><rect/><text>28238</text></g>
<g id="AE27402" transform="translate(133 523)"><rect/><text>27402</text></g>
<g id="AE20265" transform="translate(193 521)"><rect/><text>20265</text></g>
<g id="AE28717" transform="translate(297 521)"><rect/><text>28717</text></g>
<g id="AE28703" transform="translate(350 529)"><rect/><text>28703</text></g>
<g id="AE28313" transform="translate(59 541)"><rect/><text>28313</text></g>
<g id="AE31823" transform="translate(100 537)"><rect/><text>31823</text></g>
<g id="AE12652" transform="translate(229 542)"><rect/><text>12652</text></g>
<g id="AE29317" transform="translate(273 545)"><rect/><text>29317</text></g>
<g id="AE6593" transform="translate(162 550)"><rect/><text>6593</text></g>
<g id="AE6579" transform="translate(203 562)"><rect/><text>6579</text></g>
<g id="AE16167" transform="translate(243 566)"><rect/><text>16167</text></g>
<g id="AE19316" transform="translate(314 565)"><rect/><text>19316</text></g>
<g id="AE28557" transform="translate(120 571)"><rect/><text>28557</text></g>
<g id="AE23374" transform="translate(160 593)"><rect/><text>23374</text></g>
<g id="AE24257" transform="translate(208 601)"><rect/><text>24257</text></g>
<g id="AE7335" transform="translate(271 594)"><rect/><text>7335</text></g>
</g>
<g id="net-RAR">
<g id="RAR" class="h" transform="translate(625 447)"><rect/><text>RAR</text></g>
<g id="RA10417" transform="translate(658 247)"><rect/><text>10417</text></g>
<g id="RA22263" transform="translate(605 260)"><rect/><text>22263</text></g>
<g id="RA28939" transform="translate(562 266)"><rect/><text>28939</text></g>
<g id="RA16984" transform="translate(701 274)"><rect/><text>16984</text></g>
<g id="RA6063" transform="translate(636 284)"><rect/><text>6063</text></g>
<g id="RA7165" transform="translate(521 290)"><rect/><text>7165</text></g>
<g id="RA20111" transform="translate(742 298)"><rect/><text>20111</text></g>
<g id="RA26981" transform="translate(604 310)"><rect/><text>26981</text></g>
<g id="RA13377" transform="translate(559 315)"><rect/><text>13377</text></g>
<g id="RA28926" transform="translate(478 317)"><rect/><text>28926</text></g>
<g id="RA21112" transform="translate(656 323)"><rect/><text>21112</text></g>
<g id="RA28007" transform="translate(692 318)"><rect/><text>28007</text></g>
<g id="RA37435" transform="translate(516 336)"><rect/><text>37435</text></g>
<g id="RA23410" transform="translate(780 330)"><rect/><text>23410</text></g>
<g id="RA24536" transform="translate(554 351)"><rect/><text>24536</text></g>
<g id="RA37070" transform="translate(618 351)"><rect/><text>37070</text></g>
<g id="RA37389" transform="translate(457 354)"><rect/><text>37389</text></g>
<g id="RA4284" transform="translate(737 347)"><rect/><text>4284</text></g>
<g id="RA22663" transform="translate(686 357)"><rect/><text>22663</text></g>
<g id="RA27343" transform="translate(714 388)"><rect/><text>27343</text></g>
<g id="RA16642" transform="translate(761 379)"><rect/><text>16642</text></g>
<g id="RA13375" transform="translate(804 374)"><rect/><text>13375</text></g>
<g id="RA24066" transform="translate(599 383)"><rect/><text>24066</text></g>
<g id="RA12047" transform="translate(646 381)"><rect/><text>12047</text></g>
<g id="RA21196" transform="translate(490 386)"><rect/><text>21196</text></g>
<g id="RA7173" transform="translate(547 392)"><rect/><text>7173</text></g>
<g id="RA19057" transform="translate(433 394)"><rect/><text>19057</text></g>
<g id="RA32368" transform="translate(747 413)"><rect/><text>32368</text></g>
<g id="RA14818" transform="translate(791 420)"><rect/><text>14818</text></g>
<g id="RA10637" transform="translate(514 417)"><rect/><text>10637</text></g>
<g id="RA11681" transform="translate(459 428)"><rect/><text>11681</text></g>
<g id="RA24618" transform="translate(548 444)"><rect/><text>24618</text></g>
<g id="RA22661" transform="translate(701 441)"><rect/><text>22661</text></g>
<g id="RA14280" transform="translate(826 447)"><rect/><text>14280</text></g>
<g id="RA28986" transform="translate(745 456)"><rect/><text>28986</text></g>
<g id="RA4282" transform="translate(496 458)"><rect/><text>4282</text></g>
<g id="RA16940" transform="translate(421 459)"><rect/><text>16940</text></g>
<g id="RA31896" transform="translate(460 478)"><rect/><text>31896</text></g>
<g id="RA6596" transform="translate(525 479)"><rect/><text>6596</text></g>
<g id="RA1400" transform="translate(573 482)"><rect/><text>1400</text></g>
<g id="RA13376" transform="translate(783 470)"><rect/><text>13376</text></g>
<g id="RA28354" transform="translate(708 477)"><rect/><text>28354</text></g>
<g id="RA3624" transform="translate(815 501)"><rect/><text>3624</text></g>
<g id="RA11626" transform="translate(751 503)"><rect/><text>11626</text></g>
<g id="RA13495" transform="translate(502 513)"><rect/><text>13495</text></g>
<g id="RA7702" transform="translate(673 512)"><rect/><text>7702</text></g>
<g id="RA15554" transform="translate(446 524)"><rect/><text>15554</text></g>
<g id="RA28814" transform="translate(541 527)"><rect/><text>28814</text></g>
<g id="RA18446" transform="translate(597 520)"><rect/><text>18446</text></g>
<g id="RA31506" transform="translate(636 534)"><rect/><text>31506</text></g>
<g id="RA29098" transform="translate(725 526)"><rect/><text>29098</text></g>
<g id="RA31683" transform="translate(787 537)"><rect/><text>31683</text></g>
<g id="RA4283" transform="translate(475 559)"><rect/><text>4283</text></g>
<g id="RA22855" transform="translate(517 561)"><rect/><text>22855</text></g>
<g id="RA17866" transform="translate(562 558)"><rect/><text>17866</text></g>
<g id="RA20066" transform="translate(606 560)"><rect/><text>20066</text></g>
<g id="RA31542" transform="translate(669 554)"><rect/><text>31542</text></g>
<g id="RA4280" transform="translate(739 565)"><rect/><text>4280</text></g>
<g id="RA7172" transform="translate(773 583)"><rect/><text>7172</text></g>
<g id="RA16499" transform="translate(650 579)"><rect/><text>16499</text></g>
<g id="RA4281" transform="translate(699 583)"><rect/><text>4281</text></g>
<g id="RA19748" transform="translate(503 605)"><rect/><text>19748</text></g>
<g id="RA7337" transform="translate(549 604)"><rect/><text>7337</text></g>
<g id="RA24654" transform="translate(604 608)"><rect/><text>24654</text></g>
<g id="RA33328" transform="translate(669 622)"><rect/><text>33328</text></g>
<g id="RA25837" transform="translate(714 624)"><rect/><text>25837</text></g>
<g id="RA24466" transform="translate(578 642)"><rect/><text>24466</text></g>
<g id="RA29146" transform="translate(632 642)"><rect/><text>29146</text></g>
</g>
<g id="net-SIG">
<g id="SIG-1R" class="h" transform="translate(1066 446)"><rect/><text>SIG-1R</text></g>
<g id="SG5190" transform="translate(1048 259)"><rect/><text>5190</text></g>
<g id="SG28656" transform="translate(1115 260)"><rect/><text>28656</text></g>
<g id="SG23632" transform="translate(1008 274)"><rect/><text>23632</text></g>
<g id="SG19800" transform="translate(1084 279)"><rect/><text>19800</text></g>
<g id="SG21304" transform="translate(1151 281)"><rect/><text>21304</text></g>
<g id="SG23671" transform="translate(964 287)"><rect/><text>23671</text></g>
<g id="SG19145" transform="translate(1046 301)"><rect/><text>19145</text></g>
<g id="SG12847" transform="translate(1195 304)"><rect/><text>12847</text></g>
<g id="SG25923" transform="translate(933 316)"><rect/><text>25923</text></g>
<g id="SG21300" transform="translate(999 317)"><rect/><text>21300</text></g>
<g id="SG23444" transform="translate(1106 316)"><rect/><text>23444</text></g>
<g id="SG33379" transform="translate(1152 324)"><rect/><text>33379</text></g>
<g id="SG3181" transform="translate(1065 335)"><rect/><text>3181</text></g>
<g id="SG22771" transform="translate(907 350)"><rect/><text>22771</text></g>
<g id="SG30243" transform="translate(957 350)"><rect/><text>30243</text></g>
<g id="SG20890" transform="translate(1008 350)"><rect/><text>20890</text></g>
<g id="SG20387" transform="translate(1122 350)"><rect/><text>20387</text></g>
<g id="SG33380" transform="translate(1196 347)"><rect/><text>33380</text></g>
<g id="SG19248" transform="translate(1235 360)"><rect/><text>19248</text></g>
<g id="SG21291" transform="translate(1050 365)"><rect/><text>21291</text></g>
<g id="SG2355" transform="translate(1172 373)"><rect/><text>2355</text></g>
<g id="SG23494" transform="translate(887 390)"><rect/><text>23494</text></g>
<g id="SG3932" transform="translate(932 390)"><rect/><text>3932</text></g>
<g id="SG29976" transform="translate(978 386)"><rect/><text>29976</text></g>
<g id="SG17231" transform="translate(1021 388)"><rect/><text>17231</text></g>
<g id="SG13831" transform="translate(1091 382)"><rect/><text>13831</text></g>
<g id="SG26943" transform="translate(1130 391)"><rect/><text>26943</text></g>
<g id="SG10418" transform="translate(1202 393)"><rect/><text>10418</text></g>
<g id="SG29344" transform="translate(1246 406)"><rect/><text>29344</text></g>
<g id="SG14292" transform="translate(1168 412)"><rect/><text>14292</text></g>
<g id="SG5700" transform="translate(950 423)"><rect/><text>5700</text></g>
<g id="SG18809" transform="translate(881 435)"><rect/><text>18809</text></g>
<g id="SG5620" transform="translate(920 442)"><rect/><text>5620</text></g>
<g id="SG34989" transform="translate(1140 435)"><rect/><text>34989</text></g>
<g id="SG17594" transform="translate(1213 436)"><rect/><text>17594</text></g>
<g id="SG5013" transform="translate(993 453)"><rect/><text>5013</text></g>
<g id="SG2406" transform="translate(1254 453)"><rect/><text>2406</text></g>
<g id="SG9836" transform="translate(1171 460)"><rect/><text>9836</text></g>
<g id="SG3182" transform="translate(956 471)"><rect/><text>3182</text></g>
<g id="SG17026" transform="translate(885 477)"><rect/><text>17026</text></g>
<g id="SG2413" transform="translate(1138 476)"><rect/><text>2413</text></g>
<g id="SG23531" transform="translate(1210 478)"><rect/><text>23531</text></g>
<g id="SG3180" transform="translate(1001 481)"><rect/><text>3180</text></g>
<g id="SG846" transform="translate(923 491)"><rect/><text>846</text></g>
<g id="SG23495" transform="translate(1247 504)"><rect/><text>23495</text></g>
<g id="SG2412" transform="translate(977 512)"><rect/><text>2412</text></g>
<g id="SG24407" transform="translate(1041 515)"><rect/><text>24407</text></g>
<g id="SG2411" transform="translate(1092 511)"><rect/><text>2411</text></g>
<g id="SG21863" transform="translate(1143 508)"><rect/><text>21863</text></g>
<g id="SG6559" transform="translate(1199 520)"><rect/><text>6559</text></g>
<g id="SG14959" transform="translate(893 526)"><rect/><text>14959</text></g>
<g id="SG1669" transform="translate(935 533)"><rect/><text>1669</text></g>
<g id="SG20542" transform="translate(1005 535)"><rect/><text>20542</text></g>
<g id="SG25779" transform="translate(1128 536)"><rect/><text>25779</text></g>
<g id="SG37467" transform="translate(1167 550)"><rect/><text>37467</text></g>
<g id="SG18551" transform="translate(1222 555)"><rect/><text>18551</text></g>
<g id="SG9980" transform="translate(1044 555)"><rect/><text>9980</text></g>
<g id="SG32208" transform="translate(1099 551)"><rect/><text>32208</text></g>
<g id="SG3179" transform="translate(969 558)"><rect/><text>3179</text></g>
<g id="SG21983" transform="translate(927 577)"><rect/><text>21983</text></g>
<g id="SG2405" transform="translate(1007 578)"><rect/><text>2405</text></g>
<g id="SG17646" transform="translate(1142 577)"><rect/><text>17646</text></g>
<g id="SG8687" transform="translate(1187 588)"><rect/><text>8687</text></g>
<g id="SG18680" transform="translate(1046 595)"><rect/><text>18680</text></g>
<g id="SG2398" transform="translate(1087 590)"><rect/><text>2398</text></g>
<g id="SG5189" transform="translate(971 604)"><rect/><text>5189</text></g>
<g id="SG17647" transform="translate(1149 613)"><rect/><text>17647</text></g>
<g id="SG32136" transform="translate(1011 627)"><rect/><text>32136</text></g>
<g id="SG5585" transform="translate(1061 634)"><rect/><text>5585</text></g>
<g id="SG26945" transform="translate(1108 627)"><rect/><text>26945</text></g>
</g>
<g id="net-GABA">
<g id="GABA-B" class="h" transform="translate(184 807)"><rect/><text>GABA(B)</text></g>
<g id="GB5174" transform="translate(162 641)"><rect/><text>5174</text></g>
<g id="GB35266" transform="translate(216 643)"><rect/><text>35266</text></g>
<g id="GB14532" transform="translate(129 660)"><rect/><text>14532</text></g>
<g id="GB30520" transform="translate(203 665)"><rect/><text>30520</text></g>
<g id="GB17890" transform="translate(254 665)"><rect/><text>17890</text></g>
<g id="GB8294" transform="translate(162 677)"><rect/><text>8294</text></g>
<g id="GB3113" transform="translate(107 682)"><rect/><text>3113</text></g>
<g id="GB6736" transform="translate(74 690)"><rect/><text>6736</text></g>
<g id="GB35357" transform="translate(228 689)"><rect/><text>35357</text></g>
<g id="GB15559" transform="translate(291 684)"><rect/><text>15559</text></g>
<g id="GB16453" transform="translate(139 701)"><rect/><text>16453</text></g>
<g id="GB26581" transform="translate(191 697)"><rect/><text>26581</text></g>
<g id="GB23700" transform="translate(257 709)"><rect/><text>23700</text></g>
<g id="GB27775" transform="translate(50 722)"><rect/><text>27775</text></g>
<g id="GB6649" transform="translate(114 720)"><rect/><text>6649</text></g>
<g id="GB25848" transform="translate(179 728)"><rect/><text>25848</text></g>
<g id="GB5173" transform="translate(217 729)"><rect/><text>5173</text></g>
<g id="GB28873" transform="translate(298 719)"><rect/><text>28873</text></g>
<g id="GB27239" transform="translate(89 740)"><rect/><text>27239</text></g>
<g id="GB27009" transform="translate(258 739)"><rect/><text>27009</text></g>
<g id="GB37003" transform="translate(327 737)"><rect/><text>37003</text></g>
<g id="GB6138" transform="translate(119 755)"><rect/><text>6138</text></g>
<g id="GB37260" transform="translate(158 758)"><rect/><text>37260</text></g>
<g id="GB8295" transform="translate(217 753)"><rect/><text>8295</text></g>
<g id="GB19086" transform="translate(26 763)"><rect/><text>19086</text></g>
<g id="GB6567" transform="translate(68 759)"><rect/><text>6567</text></g>
<g id="GB24195" transform="translate(252 765)"><rect/><text>24195</text></g>
<g id="GB5868" transform="translate(292 763)"><rect/><text>5868</text></g>
<g id="GB27237" transform="translate(132 781)"><rect/><text>27237</text></g>
<g id="GB626" transform="translate(92 787)"><rect/><text>626</text></g>
<g id="GB24517" transform="translate(264 786)"><rect/><text>24517</text></g>
<g id="GB25699" transform="translate(352 779)"><rect/><text>25699</text></g>
<g id="GB1595" transform="translate(49 796)"><rect/><text>1595</text></g>
<g id="GB24196" transform="translate(326 799)"><rect/><text>24196</text></g>
<g id="GB23466" transform="translate(17 813)"><rect/><text>23466</text></g>
<g id="GB26264" transform="translate(79 819)"><rect/><text>26264</text></g>
<g id="GB26717" transform="translate(122 817)"><rect/><text>26717</text></g>
<g id="GB12560" transform="translate(265 810)"><rect/><text>12560</text></g>
<g id="GB5176" transform="translate(340 828)"><rect/><text>5176</text></g>
<g id="GB28606" transform="translate(257 832)"><rect/><text>28606</text></g>
<g id="GB26585" transform="translate(299 832)"><rect/><text>26585</text></g>
<g id="GB24194" transform="translate(36 845)"><rect/><text>24194</text></g>
<g id="GB18881" transform="translate(71 855)"><rect/><text>18881</text></g>
<g id="GB30977" transform="translate(119 849)"><rect/><text>30977</text></g>
<g id="GB5175" transform="translate(162 850)"><rect/><text>5175</text></g>
<g id="GB28387" transform="translate(232 852)"><rect/><text>28387</text></g>
<g id="GB18880" transform="translate(272 858)"><rect/><text>18880</text></g>
<g id="GB20165" transform="translate(313 859)"><rect/><text>20165</text></g>
<g id="GB30235" transform="translate(47 878)"><rect/><text>30235</text></g>
<g id="GB28539" transform="translate(95 874)"><rect/><text>28539</text></g>
<g id="GB17404" transform="translate(138 877)"><rect/><text>17404</text></g>
<g id="GB4297" transform="translate(196 875)"><rect/><text>4297</text></g>
<g id="GB11313" transform="translate(272 883)"><rect/><text>11313</text></g>
<g id="GB26761" transform="translate(333 879)"><rect/><text>26761</text></g>
<g id="GB7498" transform="translate(67 912)"><rect/><text>7498</text></g>
<g id="GB6904" transform="translate(104 904)"><rect/><text>6904</text></g>
<g id="GB25701" transform="translate(171 898)"><rect/><text>25701</text></g>
<g id="GB28250" transform="translate(208 912)"><rect/><text>28250</text></g>
<g id="GB29801" transform="translate(273 906)"><rect/><text>29801</text></g>
<g id="GB17346" transform="translate(311 906)"><rect/><text>17346</text></g>
<g id="GB14533" transform="translate(123 923)"><rect/><text>14533</text></g>
<g id="GB28404" transform="translate(242 924)"><rect/><text>28404</text></g>
<g id="GB16488" transform="translate(159 932)"><rect/><text>16488</text></g>
<g id="GB10297" transform="translate(196 938)"><rect/><text>10297</text></g>
<g id="GB6641" transform="translate(95 944)"><rect/><text>6641</text></g>
<g id="GB31944" transform="translate(273 943)"><rect/><text>31944</text></g>
<g id="GB19087" transform="translate(138 961)"><rect/><text>19087</text></g>
<g id="GB27866" transform="translate(181 970)"><rect/><text>27866</text></g>
<g id="GB18377" transform="translate(230 962)"><rect/><text>18377</text></g>
</g>
<g id="net-RXR">
<g id="RXR" class="h" transform="translate(537 820)"><rect/><text>RXR</text></g>
<g id="RX6168" transform="translate(550 669)"><rect/><text>6168</text></g>
<g id="RX28836" transform="translate(511 674)"><rect/><text>28836</text></g>
<g id="RX9638" transform="translate(470 685)"><rect/><text>9638</text></g>
<g id="RX22863" transform="translate(528 695)"><rect/><text>22863</text></g>
<g id="RX21488" transform="translate(570 697)"><rect/><text>21488</text></g>
<g id="RX24556" transform="translate(608 690)"><rect/><text>24556</text></g>
<g id="RX31625" transform="translate(428 713)"><rect/><text>31625</text></g>
<g id="RX33309" transform="translate(462 727)"><rect/><text>33309</text></g>
<g id="RX16242" transform="translate(634 717)"><rect/><text>16242</text></g>
<g id="RX37158" transform="translate(557 728)"><rect/><text>37158</text></g>
<g id="RX24841" transform="translate(597 733)"><rect/><text>24841</text></g>
<g id="RX27970" transform="translate(492 738)"><rect/><text>27970</text></g>
<g id="RX16559" transform="translate(667 744)"><rect/><text>16559</text></g>
<g id="RX28697" transform="translate(445 760)"><rect/><text>28697</text></g>
<g id="RX28284" transform="translate(519 757)"><rect/><text>28284</text></g>
<g id="RX13275" transform="translate(562 760)"><rect/><text>13275</text></g>
<g id="RX33375" transform="translate(622 757)"><rect/><text>33375</text></g>
<g id="RX17409" transform="translate(406 748)"><rect/><text>17409</text></g>
<g id="RX6038" transform="translate(485 779)"><rect/><text>6038</text></g>
<g id="RX29136" transform="translate(640 779)"><rect/><text>29136</text></g>
<g id="RX1063" transform="translate(679 788)"><rect/><text>1063</text></g>
<g id="RX5580" transform="translate(599 788)"><rect/><text>5580</text></g>
<g id="RX26508" transform="translate(431 788)"><rect/><text>26508</text></g>
<g id="RX32212" transform="translate(391 787)"><rect/><text>32212</text></g>
<g id="RX26620" transform="translate(463 812)"><rect/><text>26620</text></g>
<g id="RX285" transform="translate(639 813)"><rect/><text>285</text></g>
<g id="RX3426" transform="translate(665 832)"><rect/><text>3426</text></g>
<g id="RX31579" transform="translate(598 838)"><rect/><text>31579</text></g>
<g id="RX11139" transform="translate(691 850)"><rect/><text>11139</text></g>
<g id="RX31086" transform="translate(485 838)"><rect/><text>31086</text></g>
<g id="RX7705" transform="translate(408 823)"><rect/><text>7705</text></g>
<g id="RX856" transform="translate(440 844)"><rect/><text>856</text></g>
<g id="RX17648" transform="translate(381 845)"><rect/><text>17648</text></g>
<g id="RX13277" transform="translate(632 861)"><rect/><text>13277</text></g>
<g id="RX18952" transform="translate(478 870)"><rect/><text>18952</text></g>
<g id="RX9944" transform="translate(578 866)"><rect/><text>9944</text></g>
<g id="RX22736" transform="translate(667 887)"><rect/><text>22736</text></g>
<g id="RX7698" transform="translate(622 887)"><rect/><text>7698</text></g>
<g id="RX27357" transform="translate(440 889)"><rect/><text>27357</text></g>
<g id="RX17327" transform="translate(400 889)"><rect/><text>17327</text></g>
<g id="RX19617" transform="translate(509 892)"><rect/><text>19617</text></g>
<g id="RX30925" transform="translate(551 887)"><rect/><text>30925</text></g>
<g id="RX25962" transform="translate(476 914)"><rect/><text>25962</text></g>
<g id="RX5579" transform="translate(584 912)"><rect/><text>5579</text></g>
<g id="RX9482" transform="translate(649 925)"><rect/><text>9482</text></g>
<g id="RX14038" transform="translate(517 923)"><rect/><text>14038</text></g>
<g id="RX32553" transform="translate(552 931)"><rect/><text>32553</text></g>
<g id="RX6001" transform="translate(434 927)"><rect/><text>6001</text></g>
<g id="RX3399" transform="translate(615 941)"><rect/><text>3399</text></g>
<g id="RX6048" transform="translate(464 952)"><rect/><text>6048</text></g>
<g id="RX13278" transform="translate(502 961)"><rect/><text>13278</text></g>
<g id="RX29766" transform="translate(541 970)"><rect/><text>29766</text></g>
<g id="RX4378" transform="translate(581 961)"><rect/><text>4378</text></g>
</g>
<g id="net-MGLUR">
<g id="MGLUR" class="h" transform="translate(893 826)"><rect/><text>MGLUR</text></g>
<g id="MG21748" transform="translate(860 649)"><rect/><text>21748</text></g>
<g id="MG20556" transform="translate(807 672)"><rect/><text>20556</text></g>
<g id="MG8380" transform="translate(858 683)"><rect/><text>8380</text></g>
<g id="MG8838" transform="translate(772 699)"><rect/><text>8838</text></g>
<g id="MG1243" transform="translate(832 703)"><rect/><text>1243</text></g>
<g id="MG35014" transform="translate(862 725)"><rect/><text>35014</text></g>
<g id="MG24902" transform="translate(741 737)"><rect/><text>24902</text></g>
<g id="MG16101" transform="translate(787 736)"><rect/><text>16101</text></g>
<g id="MG18330" transform="translate(827 738)"><rect/><text>18330</text></g>
<g id="MG27697" transform="translate(821 770)"><rect/><text>27697</text></g>
<g id="MG24320" transform="translate(764 771)"><rect/><text>24320</text></g>
<g id="MG26378" transform="translate(728 780)"><rect/><text>26378</text></g>
<g id="MG4264" transform="translate(806 796)"><rect/><text>4264</text></g>
<g id="MG33178" transform="translate(767 804)"><rect/><text>33178</text></g>
<g id="MG29977" transform="translate(722 818)"><rect/><text>29977</text></g>
<g id="MG37006" transform="translate(758 828)"><rect/><text>37006</text></g>
<g id="MG33347" transform="translate(794 837)"><rect/><text>33347</text></g>
<g id="MG22732" transform="translate(827 847)"><rect/><text>22732</text></g>
<g id="MG26147" transform="translate(723 862)"><rect/><text>26147</text></g>
<g id="MG6058" transform="translate(763 864)"><rect/><text>6058</text></g>
<g id="MG29232" transform="translate(857 865)"><rect/><text>29232</text></g>
<g id="MG10446" transform="translate(804 873)"><rect/><text>10446</text></g>
<g id="MG12285" transform="translate(744 896)"><rect/><text>12285</text></g>
<g id="MG20096" transform="translate(784 902)"><rect/><text>20096</text></g>
<g id="MG16076" transform="translate(846 903)"><rect/><text>16076</text></g>
<g id="MG28214" transform="translate(761 933)"><rect/><text>28214</text></g>
<g id="MG9656" transform="translate(823 927)"><rect/><text>9656</text></g>
<g id="MG1677" transform="translate(792 956)"><rect/><text>1677</text></g>
<g id="MG24064" transform="translate(845 954)"><rect/><text>24064</text></g>
<g id="MG3500" transform="translate(822 987)"><rect/><text>3500</text></g>
<g id="MG29872" transform="translate(863 993)"><rect style="fill:#ffff00"/><text>29872</text></g>
<g id="MG26804" transform="translate(900 994)"><rect/><text>26804</text></g>
<g id="MG10314" transform="translate(938 996)"><rect/><text>10314</text></g>
<g id="MG10073" transform="translate(916 959)"><rect/><text>10073</text></g>
<g id="MG18979" transform="translate(969 974)"><rect/><text>18979</text></g>
<g id="MG10206" transform="translate(1006 957)"><rect/><text>10206</text></g>
<g id="MG16981" transform="translate(901 663)"><rect/><text>16981</text></g>
<g id="MG15771" transform="translate(941 653)"><rect/><text>15771</text></g>
<g id="MG17288" transform="translate(921 690)"><rect/><text>17288</text></g>
<g id="MG19044" transform="translate(957 684)"><rect/><text>19044</text></g>
<g id="MG1219" transform="translate(998 687)"><rect/><text>1219</text></g>
<g id="MG37237" transform="translate(888 706)"><rect/><text>37237</text></g>
<g id="MG27484" transform="translate(969 714)"><rect/><text>27484</text></g>
<g id="MG25965" transform="translate(941 729)"><rect/><text>25965</text></g>
<g id="MG15932" transform="translate(1009 722)"><rect/><text>15932</text></g>
<g id="MG20928" transform="translate(1045 732)"><rect/><text>20928</text></g>
<g id="MG23172" transform="translate(885 748)"><rect/><text>23172</text></g>
<g id="MG25817" transform="translate(970 745)"><rect/><text>25817</text></g>
<g id="MG18105" transform="translate(871 769)"><rect/><text>18105</text></g>
<g id="MG24487" transform="translate(928 764)"><rect/><text>24487</text></g>
<g id="MG18103" transform="translate(1006 764)"><rect/><text>18103</text></g>
<g id="MG36973" transform="translate(1047 772)"><rect/><text>36973</text></g>
<g id="MG36908" transform="translate(939 789)"><rect/><text>36908</text></g>
<g id="MG28827" transform="translate(979 788)"><rect/><text>28827</text></g>
<g id="MG21132" transform="translate(1019 801)"><rect/><text>21132</text></g>
<g id="MG4229" transform="translate(1068 804)"><rect/><text>4229</text></g>
<g id="MG14262" transform="translate(976 821)"><rect/><text>14262</text></g>
<g id="MG19605" transform="translate(1051 833)"><rect/><text>19605</text></g>
<g id="MG35280" transform="translate(1008 841)"><rect/><text>35280</text></g>
<g id="MG24251" transform="translate(974 850)"><rect/><text>24251</text></g>
<g id="MG21738" transform="translate(1069 864)"><rect/><text>21738</text></g>
<g id="MG21838" transform="translate(965 868)"><rect/><text>21838</text></g>
<g id="MG18188" transform="translate(1003 872)"><rect/><text>18188</text></g>
<g id="MG28227" transform="translate(927 877)"><rect/><text>28227</text></g>
<g id="MG11428" transform="translate(1043 889)"><rect/><text>11428</text></g>
<g id="MG16273" transform="translate(889 892)"><rect/><text>16273</text></g>
<g id="MG27463" transform="translate(963 894)"><rect/><text>27463</text></g>
<g id="MG18823" transform="translate(1003 898)"><rect/><text>18823</text></g>
<g id="MG36963" transform="translate(865 924)"><rect/><text>36963</text></g>
<g id="MG8379" transform="translate(907 926)"><rect/><text>8379</text></g>
<g id="MG29148" transform="translate(967 917)"><rect/><text>29148</text></g>
<g id="MG1527" transform="translate(1030 928)"><rect/><text>1527</text></g>
<g id="MG11944" transform="translate(944 937)"><rect/><text>11944</text></g>
<g id="MG29248" transform="translate(880 948)"><rect/><text>29248</text></g>
</g>
<g id="net-DYRK1A" class="L">
<g id="DYRK1A" class="h" transform="translate(1185 819)"><rect/><text>DYRK1A</text></g>
<g id="DY10781" transform="translate(1163 743)"><rect/><text>10781</text></g>
<g id="DY445" transform="translate(1206 743)"><rect/><text>445</text></g>
<g id="DY12921" transform="translate(1128 763)"><rect/><text>12921</text></g>
<g id="DY12914" transform="translate(1243 762)"><rect/><text>12914</text></g>
<g id="DY15936" transform="translate(1264 788)"><rect/><text>15936</text></g>
<g id="DY6018" transform="translate(1108 799)"><rect/><text>6018</text></g>
<g id="DY12105" transform="translate(1256 823)"><rect/><text>12105</text></g>
<g id="DY20875" transform="translate(1107 834)"><rect/><text>20875</text></g>
<g id="DY20816" transform="translate(1255 857)"><rect/><text>20816</text></g>
<g id="DY19657" transform="translate(1122 869)"><rect/><text>19657</text></g>
<g id="DY19501" transform="translate(1231 883)"><rect/><text>19501</text></g>
<g id="DY21828" transform="translate(1151 890)"><rect/><text>21828</text></g>
<g id="DY6019" transform="translate(1190 897)"><rect/><text>6019</text></g>
</g>
<g id="net-PLA2">
<g id="PLA2" class="h" transform="translate(93 1082)"><rect/><text>PLA2</text></g>
<g id="PL25051" transform="translate(71 1007)"><rect/><text>25051</text></g>
<g id="PL25568" transform="translate(111 1005)"><rect/><text>25568</text></g>
<g id="PL6535" transform="translate(36 1026)"><rect/><text>6535</text></g>
<g id="PL33356" transform="translate(148 1023)"><rect/><text>33356</text></g>
<g id="PL37455" transform="translate(173 1051)"><rect/><text>37455</text></g>
<g id="PL22724" transform="translate(16 1063)"><rect/><text>22724</text></g>
<g id="PL19680" transform="translate(164 1086)"><rect/><text>19680</text></g>
<g id="PL10631" transform="translate(15 1097)"><rect/><text>10631</text></g>
<g id="PL14299" transform="translate(163 1121)"><rect/><text>14299</text></g>
<g id="PL26621" transform="translate(29 1132)"><rect/><text>26621</text></g>
<g id="PL9344" transform="translate(135 1149)"><rect/><text>9344</text></g>
<g id="PL1025" transform="translate(58 1154)"><rect/><text>1025</text></g>
<g id="PL23117" transform="translate(98 1160)"><rect/><text>23117</text></g>
</g>
<g id="net-GLP">
<g id="GLP-1R" class="h" transform="translate(290 1086)"><rect/><text>GLP-1R</text></g>
<g id="GL21376" transform="translate(251 1012)"><rect/><text>21376</text></g>
<g id="GL13949" transform="translate(293 1003)"><rect/><text>13949</text></g>
<g id="GL6926" transform="translate(334 1015)"><rect/><text>6926</text></g>
<g id="GL17476" transform="translate(219 1041)"><rect/><text>17476</text></g>
<g id="GL13048" transform="translate(364 1047)"><rect/><text>13048</text></g>
<g id="GL20757" transform="translate(206 1083)"><rect/><text>20757</text></g>
<g id="GL8525" transform="translate(373 1090)"><rect/><text>8525</text></g>
<g id="GL16950" transform="translate(215 1124)"><rect/><text>16950</text></g>
<g id="GL17437" transform="translate(360 1131)"><rect/><text>17437</text></g>
<g id="GL35151" transform="translate(245 1156)"><rect/><text>35151</text></g>
<g id="GL23084" transform="translate(328 1160)"><rect/><text>23084</text></g>
<g id="GL10696" transform="translate(286 1170)"><rect/><text>10696</text></g>
</g>
<g id="net-BACE" class="L">
<g id="BACE-1" class="h" transform="translate(499 1094)"><rect/><text>BACE-1</text></g>
<g id="BA4072" transform="translate(508 1005)"><rect/><text>4072</text></g>
<g id="BA14455" transform="translate(467 1016)"><rect/><text>14455</text></g>
<g id="BA4075" transform="translate(552 1014)"><rect/><text>4075</text></g>
<g id="BA6049" transform="translate(426 1037)"><rect/><text>6049</text></g>
<g id="BA1723" transform="translate(427 1065)"><rect/><text>1723</text></g>
<g id="BA9592" transform="translate(567 1040)"><rect/><text>9592</text></g>
<g id="BA10683" transform="translate(587 1077)"><rect/><text>10683</text></g>
<g id="BA15230" transform="translate(411 1093)"><rect/><text>15230</text></g>
<g id="BA20945" transform="translate(589 1112)"><rect/><text>20945</text></g>
<g id="BA18305" transform="translate(428 1123)"><rect/><text>18305</text></g>
<g id="BA12273" transform="translate(555 1135)"><rect/><text>12273</text></g>
<g id="BA4073" transform="translate(428 1154)"><rect/><text>4073</text></g>
<g id="BA19756" transform="translate(471 1170)"><rect/><text>19756</text></g>
<g id="BA4074" transform="translate(555 1169)"><rect/><text>4074</text></g>
<g id="BA8702" transform="translate(512 1179)"><rect/><text>8702</text></g>
</g>
<g id="net-Ftase" class="L">
<g id="Ftase" class="h" transform="translate(727 1094)"><rect/><text>Ftase</text></g>
<g id="FT1662" transform="translate(730 1008)"><rect/><text>1662</text></g>
<g id="FT3838" transform="translate(687 1018)"><rect/><text>3838</text></g>
<g id="FT22321" transform="translate(773 1021)"><rect/><text>22321</text></g>
<g id="FT15234" transform="translate(655 1048)"><rect/><text>15234</text></g>
<g id="FT799" transform="translate(803 1054)"><rect/><text>799</text></g>
<g id="FT5693" transform="translate(641 1090)"><rect/><text>5693</text></g>
<g id="FT30351" transform="translate(812 1098)"><rect/><text>30351</text></g>
<g id="FT32120" transform="translate(650 1134)"><rect/><text>32120</text></g>
<g id="FT22315" transform="translate(799 1141)"><rect/><text>22315</text></g>
<g id="FT18491" transform="translate(681 1167)"><rect/><text>18491</text></g>
<g id="FT22707" transform="translate(766 1170)"><rect/><text>22707</text></g>
<g id="FT14153" transform="translate(723 1180)"><rect/><text>14153</text></g>
</g>
<g id="net-Casp" class="L">
<g id="Caspase-3" class="h" transform="translate(930 1094)"><rect/><text>Caspase-3</text></g>
<g id="CA23547" transform="translate(929 1025)"><rect/><text>23547</text></g>
<g id="CA13131" transform="translate(881 1046)"><rect/><text>13131</text></g>
<g id="CA6406" transform="translate(978 1045)"><rect/><text>6406</text></g>
<g id="CA14414" transform="translate(862 1094)"><rect/><text>14414</text></g>
<g id="CA6966" transform="translate(998 1092)"><rect/><text>6966</text></g>
<g id="CA2476" transform="translate(881 1142)"><rect/><text>2476</text></g>
<g id="CA22773" transform="translate(979 1142)"><rect/><text>22773</text></g>
<g id="CA6494" transform="translate(930 1162)"><rect/><text>6494</text></g>
</g>
<g id="net-PDE4" class="L">
<g id="PDE4" class="h" transform="translate(1150 1078)"><rect/><text>PDE4</text></g>
<g id="PD15967" transform="translate(1118 959)"><rect/><text>15967</text></g>
<g id="PD18" transform="translate(1178 964)"><rect/><text>18</text></g>
<g id="PD577" transform="translate(1216 985)"><rect/><text>577</text></g>
<g id="PD17182" transform="translate(1059 1004)"><rect/><text>17182</text></g>
<g id="PD3288" transform="translate(1102 1001)"><rect/><text>3288</text></g>
<g id="PD9517" transform="translate(1144 996)"><rect/><text>9517</text></g>
<g id="PD11665" transform="translate(1181 1018)"><rect/><text>11665</text></g>
<g id="PD13268" transform="translate(1246 1017)"><rect/><text>13268</text></g>
<g id="PD3279" transform="translate(1087 1042)"><rect/><text>3279</text></g>
<g id="PD7556" transform="translate(1213 1049)"><rect/><text>7556</text></g>
<g id="PD16847" transform="translate(1036 1050)"><rect/><text>16847</text></g>
<g id="PD14416" transform="translate(1265 1054)"><rect/><text>14416</text></g>
<g id="PD22713" transform="translate(1067 1079)"><rect/><text>22713</text></g>
<g id="PD28990" transform="translate(1252 1090)"><rect/><text>28990</text></g>
<g id="PD10639" transform="translate(1034 1112)"><rect/><text>10639</text></g>
<g id="PD23069" transform="translate(1215 1112)"><rect/><text>23069</text></g>
<g id="PD25444" transform="translate(1081 1120)"><rect/><text>25444</text></g>
<g id="PD23358" transform="translate(1257 1134)"><rect/><text>23358</text></g>
<g id="PD18456" transform="translate(1117 1139)"><rect/><text>18456</text></g>
<g id="PD21713" transform="translate(1179 1142)"><rect/><text>21713</text></g>
<g id="PD7428" transform="translate(1065 1160)"><rect/><text>7428</text></g>
<g id="PD23144" transform="translate(1222 1166)"><rect/><text>23144</text></g>
<g id="PD37180" transform="translate(1143 1170)"><rect/><text>37180</text></g>
<g id="PD20949" transform="translate(1104 1187)"><rect/><text>20949</text></g>
<g id="PD18146" transform="translate(1182 1191)"><rect/><text>18146</text></g>
</g>
<g id="net-Fyn" class="L">
<g id="Fyn" class="h" transform="translate(104 1328)"><rect/><text>Fyn</text></g>
<g id="FY15522" transform="translate(107 1244)"><rect/><text>15522</text></g>
<g id="FY22817" transform="translate(64 1253)"><rect/><text>22817</text></g>
<g id="FY1889" transform="translate(149 1256)"><rect/><text>1889</text></g>
<g id="FY1314" transform="translate(32 1282)"><rect/><text>1314</text></g>
<g id="FY4393" transform="translate(179 1289)"><rect/><text>4393</text></g>
<g id="FY37432" transform="translate(19 1324)"><rect/><text>37432</text></g>
<g id="FY11333" transform="translate(188 1332)"><rect/><text>11333</text></g>
<g id="FY33348" transform="translate(28 1367)"><rect/><text>33348</text></g>
<g id="FY22853" transform="translate(175 1373)"><rect/><text>22853</text></g>
<g id="FY31897" transform="translate(58 1399)"><rect/><text>31897</text></g>
<g id="FY4390" transform="translate(142 1402)"><rect/><text>4390</text></g>
<g id="FY9599" transform="translate(99 1413)"><rect/><text>9599</text></g>
</g>
<g id="net-EGFR" class="L">
<g id="EGFR" class="h" transform="translate(294 1303)"><rect/><text>EGFR</text></g>
<g id="EG20944" transform="translate(273 1236)"><rect/><text>20944</text></g>
<g id="EG18991" transform="translate(317 1236)"><rect/><text>18991</text></g>
<g id="EG29792" transform="translate(237 1261)"><rect/><text>29792</text></g>
<g id="EG1608" transform="translate(354 1264)"><rect/><text>1608</text></g>
<g id="EG6499" transform="translate(224 1302)"><rect/><text>6499</text></g>
<g id="EG1610" transform="translate(365 1306)"><rect/><text>1610</text></g>
<g id="EG3847" transform="translate(237 1344)"><rect/><text>3847</text></g>
<g id="EG5243" transform="translate(349 1347)"><rect/><text>5243</text></g>
<g id="EG5297" transform="translate(271 1369)"><rect/><text>5297</text></g>
<g id="EG17553" transform="translate(313 1370)"><rect/><text>17553</text></g>
</g>
<g id="net-IDO" class="L">
<g id="IDO" class="h" transform="translate(509 1331)"><rect/><text>IDO</text></g>
<g id="ID3101" transform="translate(484 1246)"><rect/><text>3101</text></g>
<g id="ID22272" transform="translate(529 1245)"><rect/><text>22272</text></g>
<g id="ID15510" transform="translate(446 1268)"><rect/><text>15510</text></g>
<g id="ID21839" transform="translate(570 1264)"><rect/><text>21839</text></g>
<g id="ID14590" transform="translate(424 1309)"><rect/><text>14590</text></g>
<g id="ID31093" transform="translate(598 1296)"><rect/><text>31093</text></g>
<g id="ID3102" transform="translate(588 1336)"><rect/><text>3102</text></g>
<g id="ID18327" transform="translate(422 1348)"><rect/><text>18327</text></g>
<g id="ID15237" transform="translate(587 1374)"><rect/><text>15237</text></g>
<g id="ID8671" transform="translate(438 1387)"><rect/><text>8671</text></g>
<g id="ID21581" transform="translate(557 1405)"><rect/><text>21581</text></g>
<g id="ID17529" transform="translate(471 1412)"><rect/><text>17529</text></g>
<g id="ID17923" transform="translate(515 1418)"><rect/><text>17923</text></g>
</g>
<g id="net-a7" class="L">
<g id="a7NACHR" class="h" transform="translate(714 1338)"><rect/><text>α7NACHR</text></g>
<g id="A7997" transform="translate(677 1268)"><rect/><text>997</text></g>
<g id="A7574" transform="translate(717 1259)"><rect/><text>574</text></g>
<g id="A721019" transform="translate(755 1271)"><rect/><text>21019</text></g>
<g id="A75284" transform="translate(648 1296)"><rect/><text>5284</text></g>
<g id="A736949" transform="translate(783 1301)"><rect/><text>36949</text></g>
<g id="A718532" transform="translate(636 1334)"><rect/><text>18532</text></g>
<g id="A735145" transform="translate(791 1341)"><rect/><text>35145</text></g>
<g id="A716955" transform="translate(644 1374)"><rect/><text>16955</text></g>
<g id="A715525" transform="translate(780 1380)"><rect/><text>15525</text></g>
<g id="A716861" transform="translate(672 1403)"><rect/><text>16861</text></g>
<g id="A76961" transform="translate(749 1407)"><rect/><text>6961</text></g>
<g id="A715517" transform="translate(710 1415)"><rect/><text>15517</text></g>
</g>
<g id="net-FGFR1" class="L">
<g id="FGFR1" class="h" transform="translate(930 1327)"><rect/><text>FGFR1</text></g>
<g id="FG31851" transform="translate(934 1249)"><rect/><text>31851</text></g>
<g id="FG33333" transform="translate(892 1259)"><rect/><text>33333</text></g>
<g id="FG10520" transform="translate(976 1263)"><rect/><text>10520</text></g>
<g id="FG24681" transform="translate(863 1289)"><rect/><text>24681</text></g>
<g id="FG19477" transform="translate(1002 1298)"><rect/><text>19477</text></g>
<g id="FG23061" transform="translate(861 1331)"><rect/><text>23061</text></g>
<g id="FG34971" transform="translate(1007 1342)"><rect/><text>34971</text></g>
<g id="FG12279" transform="translate(868 1373)"><rect/><text>12279</text></g>
<g id="FG32995" transform="translate(986 1381)"><rect/><text>32995</text></g>
<g id="FG12277" transform="translate(903 1398)"><rect/><text>12277</text></g>
<g id="FG37411" transform="translate(947 1402)"><rect/><text>37411</text></g>
</g>
<g id="net-AMPA" class="L">
<g id="AMPA" class="h" transform="translate(1166 1332)"><rect/><text>AMPA</text></g>
<g id="AM21938" transform="translate(1169 1243)"><rect/><text>21938</text></g>
<g id="AM6329" transform="translate(1123 1252)"><rect/><text>6329</text></g>
<g id="AM13143" transform="translate(1214 1256)"><rect/><text>13143</text></g>
<g id="AM6827" transform="translate(1089 1284)"><rect/><text>6827</text></g>
<g id="AM14450" transform="translate(1246 1291)"><rect/><text>14450</text></g>
<g id="AM30267" transform="translate(1075 1329)"><rect/><text>30267</text></g>
<g id="AM37073" transform="translate(1256 1337)"><rect/><text>37073</text></g>
<g id="AM14083" transform="translate(1085 1374)"><rect/><text>14083</text></g>
<g id="AM6400" transform="translate(1242 1381)"><rect/><text>6400</text></g>
<g id="AM6407" transform="translate(1117 1408)"><rect/><text>6407</text></g>
<g id="AM13037" transform="translate(1207 1412)"><rect/><text>13037</text></g>
<g id="AM17513" transform="translate(1161 1423)"><rect/><text>17513</text></g>
</g>
<g id="net-TNF" class="L">
<g id="TNF" class="h" transform="translate(354 1463)"><rect/><text>TNF</text></g>
<g id="TN7460" transform="translate(334 1403)"><rect/><text>7460</text></g>
<g id="TN4440" transform="translate(386 1409)"><rect/><text>4440</text></g>
<g id="TN8849" transform="translate(296 1439)"><rect/><text>8849</text></g>
<g id="TN14034" transform="translate(415 1457)"><rect/><text>14034</text></g>
<g id="TN20827" transform="translate(298 1491)"><rect/><text>20827</text></g>
<g id="TN11455" transform="translate(398 1509)"><rect/><text>11455</text></g>
<g id="TN29114" transform="translate(344 1526)"><rect/><text>29114</text></g>
</g>
<g id="net-lyn" class="L">
<g id="lyn" class="h" transform="translate(814 1475)"><rect/><text>lyn</text></g>
<g id="LY31540" transform="translate(793 1423)"><rect/><text>31540</text></g>
<g id="LY3825" transform="translate(867 1457)"><rect/><text>3825</text></g>
<g id="LY8651" transform="translate(763 1498)"><rect/><text>8651</text></g>
<g id="LY19067" transform="translate(834 1525)"><rect/><text>19067</text></g>
</g>
<g id="net-MAOA">
<g id="MAOA" class="h" transform="translate(179 1646)"><rect/><text>MAOA</text></g>
<g id="MA15544" transform="translate(179 1497)"><rect/><text>15544</text></g>
<g id="MA4544" transform="translate(135 1505)"><rect/><text>4544</text></g>
<g id="MA21507" transform="translate(236 1505)"><rect/><text>21507</text></g>
<g id="MA31362" transform="translate(83 1530)"><rect/><text>31362</text></g>
<g id="MA26494" transform="translate(194 1535)"><rect/><text>26494</text></g>
<g id="MA20382" transform="translate(284 1536)"><rect/><text>20382</text></g>
<g id="MA22501" transform="translate(136 1547)"><rect/><text>22501</text></g>
<g id="MA32147" transform="translate(232 1550)"><rect/><text>32147</text></g>
<g id="MA24812" transform="translate(101 1564)"><rect/><text>24812</text></g>
<g id="MA8219" transform="translate(60 1571)"><rect/><text>8219</text></g>
<g id="MA30296" transform="translate(183 1572)"><rect/><text>30296</text></g>
<g id="MA38859" transform="translate(268 1573)"><rect/><text>38859</text></g>
<g id="MA15444" transform="translate(316 1586)"><rect/><text>15444</text></g>
<g id="MA15330" transform="translate(223 1593)"><rect/><text>15330</text></g>
<g id="MA17557" transform="translate(91 1602)"><rect/><text>17557</text></g>
<g id="MA30714" transform="translate(135 1602)"><rect/><text>30714</text></g>
<g id="MA283" transform="translate(33 1614)"><rect/><text>283</text></g>
<g id="MA17563" transform="translate(280 1616)"><rect/><text>17563</text></g>
<g id="MA23687" transform="translate(73 1635)"><rect/><text>23687</text></g>
<g id="MA30713" transform="translate(322 1637)"><rect/><text>30713</text></g>
<g id="MA3820" transform="translate(248 1648)"><rect/><text>3820</text></g>
<g id="MA28386" transform="translate(30 1669)"><rect/><text>28386</text></g>
<g id="MA20877" transform="translate(114 1662)"><rect/><text>20877</text></g>
<g id="MA26905" transform="translate(73 1679)"><rect/><text>26905</text></g>
<g id="MA10699" transform="translate(273 1681)"><rect/><text>10699</text></g>
<g id="MA15445" transform="translate(322 1682)"><rect/><text>15445</text></g>
<g id="MA8772" transform="translate(225 1697)"><rect/><text>8772</text></g>
<g id="MA1230" transform="translate(141 1707)"><rect/><text>1230</text></g>
<g id="MA24823" transform="translate(50 1719)"><rect/><text>24823</text></g>
<g id="MA16140" transform="translate(97 1716)"><rect/><text>16140</text></g>
<g id="MA8220" transform="translate(262 1715)"><rect/><text>8220</text></g>
<g id="MA4545" transform="translate(187 1721)"><rect/><text>4545</text></g>
<g id="MA31536" transform="translate(303 1727)"><rect/><text>31536</text></g>
<g id="MA19244" transform="translate(221 1746)"><rect/><text>19244</text></g>
<g id="MA6777" transform="translate(130 1750)"><rect/><text>6777</text></g>
<g id="MA17474" transform="translate(87 1759)"><rect/><text>17474</text></g>
<g id="MA16100" transform="translate(267 1761)"><rect/><text>16100</text></g>
<g id="MA17334" transform="translate(177 1784)"><rect/><text>17334</text></g>
<g id="MA24568" transform="translate(128 1789)"><rect/><text>24568</text></g>
<g id="MA20418" transform="translate(222 1788)"><rect/><text>20418</text></g>
</g>
<g id="net-MAOB">
<g id="MAOB" class="h" transform="translate(504 1660)"><rect/><text>MAOB</text></g>
<g id="MB5041" transform="translate(424 1543)"><rect/><text>5041</text></g>
<g id="MB19133" transform="translate(404 1574)"><rect/><text>19133</text></g>
<g id="MB19925" transform="translate(377 1602)"><rect/><text>19925</text></g>
<g id="MB23809" transform="translate(422 1608)"><rect/><text>23809</text></g>
<g id="MB3315" transform="translate(366 1639)"><rect/><text>3315</text></g>
<g id="MB11440" transform="translate(403 1646)"><rect/><text>11440</text></g>
<g id="MB20228" transform="translate(361 1675)"><rect/><text>20228</text></g>
<g id="MB27626" transform="translate(414 1685)"><rect/><text>27626</text></g>
<g id="MB5043" transform="translate(384 1700)"><rect/><text>5043</text></g>
<g id="MB2314" transform="translate(424 1723)"><rect/><text>2314</text></g>
<g id="MB23802" transform="translate(387 1736)"><rect/><text>23802</text></g>
<g id="MB24629" transform="translate(410 1772)"><rect/><text>24629</text></g>
<g id="MB7756" transform="translate(501 1520)"><rect/><text>7756</text></g>
<g id="MB1017" transform="translate(461 1527)"><rect/><text>1017</text></g>
<g id="MB22705" transform="translate(536 1528)"><rect/><text>22705</text></g>
<g id="MB21658" transform="translate(572 1537)"><rect/><text>21658</text></g>
<g id="MB27660" transform="translate(486 1560)"><rect/><text>27660</text></g>
<g id="MB18935" transform="translate(525 1565)"><rect/><text>18935</text></g>
<g id="MB30134" transform="translate(600 1564)"><rect/><text>30134</text></g>
<g id="MB16875" transform="translate(449 1572)"><rect/><text>16875</text></g>
<g id="MB5042" transform="translate(562 1578)"><rect/><text>5042</text></g>
<g id="MB9593" transform="translate(627 1589)"><rect/><text>9593</text></g>
<g id="MB5177" transform="translate(494 1597)"><rect/><text>5177</text></g>
<g id="MB28201" transform="translate(537 1603)"><rect/><text>28201</text></g>
<g id="MB3316" transform="translate(457 1608)"><rect/><text>3316</text></g>
<g id="MB35117" transform="translate(590 1609)"><rect/><text>35117</text></g>
<g id="MB15922" transform="translate(560 1636)"><rect/><text>15922</text></g>
<g id="MB6020" transform="translate(621 1634)"><rect/><text>6020</text></g>
<g id="MB37343" transform="translate(653 1638)"><rect/><text>37343</text></g>
<g id="MB20479" transform="translate(594 1651)"><rect/><text>20479</text></g>
<g id="MB5040" transform="translate(441 1644)"><rect/><text>5040</text></g>
<g id="MB19154" transform="translate(564 1682)"><rect/><text>19154</text></g>
<g id="MB23128" transform="translate(605 1687)"><rect/><text>23128</text></g>
<g id="MB5039" transform="translate(643 1684)"><rect/><text>5039</text></g>
<g id="MB29723" transform="translate(452 1689)"><rect/><text>29723</text></g>
<g id="MB15333" transform="translate(541 1713)"><rect/><text>15333</text></g>
<g id="MB16400" transform="translate(584 1719)"><rect/><text>16400</text></g>
<g id="MB23562" transform="translate(627 1726)"><rect/><text>23562</text></g>
<g id="MB28808" transform="translate(466 1727)"><rect/><text>28808</text></g>
<g id="MB17086" transform="translate(503 1722)"><rect/><text>17086</text></g>
<g id="MB18776" transform="translate(558 1748)"><rect/><text>18776</text></g>
<g id="MB24429" transform="translate(603 1757)"><rect/><text>24429</text></g>
<g id="MB24595" transform="translate(446 1758)"><rect/><text>24595</text></g>
<g id="MB15337" transform="translate(486 1764)"><rect/><text>15337</text></g>
<g id="MB3292" transform="translate(523 1758)"><rect/><text>3292</text></g>
<g id="MB18388" transform="translate(574 1784)"><rect/><text>18388</text></g>
<g id="MB31700" transform="translate(456 1795)"><rect/><text>31700</text></g>
<g id="MB23729" transform="translate(499 1801)"><rect/><text>23729</text></g>
<g id="MB24631" transform="translate(537 1794)"><rect/><text>24631</text></g>
</g>
<g id="net-SIRT1" class="L">
<g id="SIRT1" class="h" transform="translate(817 1675)"><rect/><text>SIRT1</text></g>
<g id="SI8246" transform="translate(806 1550)"><rect/><text>8246</text></g>
<g id="SI12177" transform="translate(764 1562)"><rect/><text>12177</text></g>
<g id="SI6104" transform="translate(848 1556)"><rect/><text>6104</text></g>
<g id="SI5935" transform="translate(818 1582)"><rect/><text>5935</text></g>
<g id="SI8259" transform="translate(728 1587)"><rect/><text>8259</text></g>
<g id="SI6333" transform="translate(774 1607)"><rect/><text>6333</text></g>
<g id="SI6414" transform="translate(853 1611)"><rect/><text>6414</text></g>
<g id="SI8250" transform="translate(703 1622)"><rect/><text>8250</text></g>
<g id="SI20616" transform="translate(756 1639)"><rect/><text>20616</text></g>
<g id="SI6324" transform="translate(694 1664)"><rect/><text>6324</text></g>
<g id="SI6533" transform="translate(739 1679)"><rect/><text>6533</text></g>
<g id="SI6360" transform="translate(692 1709)"><rect/><text>6360</text></g>
<g id="SI8549" transform="translate(730 1723)"><rect/><text>8549</text></g>
<g id="SI6319" transform="translate(777 1723)"><rect/><text>6319</text></g>
<g id="SI6350" transform="translate(721 1764)"><rect/><text>6350</text></g>
<g id="SI8203" transform="translate(811 1757)"><rect/><text>8203</text></g>
<g id="SI12176" transform="translate(762 1776)"><rect/><text>12176</text></g>
<g id="SI5920" transform="translate(838 1795)"><rect/><text>5920</text></g>
<g id="SI8234" transform="translate(796 1801)"><rect/><text>8234</text></g>
<g id="SI6327" transform="translate(887 1576)"><rect/><text>6327</text></g>
<g id="SI22540" transform="translate(921 1601)"><rect/><text>22540</text></g>
<g id="SI6328" transform="translate(888 1633)"><rect/><text>6328</text></g>
<g id="SI6399" transform="translate(937 1643)"><rect/><text>6399</text></g>
<g id="SI8571" transform="translate(892 1672)"><rect/><text>8571</text></g>
<g id="SI8194" transform="translate(938 1684)"><rect/><text>8194</text></g>
<g id="SI17887" transform="translate(880 1708)"><rect/><text>17887</text></g>
<g id="SI6371" transform="translate(930 1723)"><rect/><text>6371</text></g>
<g id="SI8348" transform="translate(864 1741)"><rect/><text>8348</text></g>
<g id="SI6508" transform="translate(910 1758)"><rect/><text>6508</text></g>
<g id="SI8189" transform="translate(877 1782)"><rect/><text>8189</text></g>
</g>
<g id="net-JNK">
<g id="JNK" class="h" transform="translate(1126 1663)"><rect/><text>JNK</text></g>
<g id="JN5631" transform="translate(1108 1522)"><rect/><text>5631</text></g>
<g id="JN1730" transform="translate(1165 1526)"><rect/><text>1730</text></g>
<g id="JN25045" transform="translate(1043 1552)"><rect/><text>25045</text></g>
<g id="JN19505" transform="translate(1083 1561)"><rect/><text>19505</text></g>
<g id="JN22602" transform="translate(1134 1558)"><rect/><text>22602</text></g>
<g id="JN1732" transform="translate(1187 1562)"><rect/><text>1732</text></g>
<g id="JN28964" transform="translate(1231 1571)"><rect/><text>28964</text></g>
<g id="JN5625" transform="translate(1010 1589)"><rect/><text>5625</text></g>
<g id="JN1735" transform="translate(1117 1592)"><rect/><text>1735</text></g>
<g id="JN30559" transform="translate(1158 1596)"><rect/><text>30559</text></g>
<g id="JN16276" transform="translate(1064 1602)"><rect/><text>16276</text></g>
<g id="JN37124" transform="translate(1208 1606)"><rect/><text>37124</text></g>
<g id="JN16594" transform="translate(1252 1619)"><rect/><text>16594</text></g>
<g id="JN3824" transform="translate(1006 1630)"><rect/><text>3824</text></g>
<g id="JN13210" transform="translate(1053 1629)"><rect/><text>13210</text></g>
<g id="JN29388" transform="translate(1200 1648)"><rect/><text>29388</text></g>
<g id="JN28199" transform="translate(1047 1656)"><rect/><text>28199</text></g>
<g id="JN21987" transform="translate(1258 1662)"><rect/><text>21987</text></g>
<g id="JN23813" transform="translate(992 1668)"><rect/><text>23813</text></g>
<g id="JN37546" transform="translate(1220 1686)"><rect/><text>37546</text></g>
<g id="JN4845" transform="translate(1023 1691)"><rect/><text>4845</text></g>
<g id="JN14042" transform="translate(1068 1700)"><rect/><text>14042</text></g>
<g id="JN6990" transform="translate(992 1714)"><rect/><text>6990</text></g>
<g id="JN16271" transform="translate(1179 1713)"><rect/><text>16271</text></g>
<g id="JN28744" transform="translate(1254 1712)"><rect/><text>28744</text></g>
<g id="JN16925" transform="translate(1134 1723)"><rect/><text>16925</text></g>
<g id="JN23814" transform="translate(1222 1736)"><rect/><text>23814</text></g>
<g id="JN35320" transform="translate(1073 1738)"><rect/><text>35320</text></g>
<g id="JN17126" transform="translate(1029 1756)"><rect/><text>17126</text></g>
<g id="JN16008" transform="translate(1171 1756)"><rect/><text>16008</text></g>
<g id="JN28193" transform="translate(1106 1758)"><rect/><text>28193</text></g>
<g id="JN25383" transform="translate(1210 1776)"><rect/><text>25383</text></g>
<g id="JN23219" transform="translate(1068 1784)"><rect/><text>23219</text></g>
<g id="JN18013" transform="translate(1112 1795)"><rect/><text>18013</text></g>
<g id="JN23801" transform="translate(1159 1798)"><rect/><text>23801</text></g>
</g>
</g>
</svg>
